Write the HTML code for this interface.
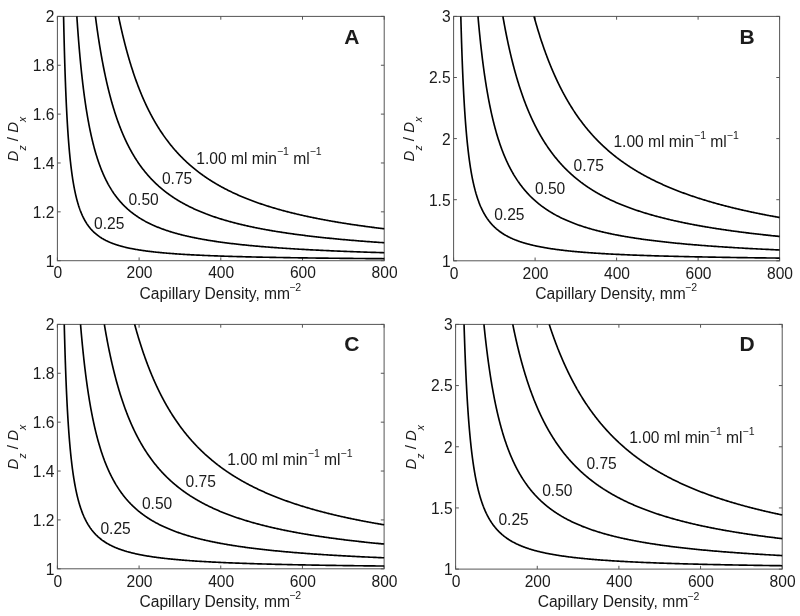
<!DOCTYPE html>
<html><head><meta charset="utf-8"><style>
html,body{margin:0;padding:0;background:#fff;}
svg{display:block;}
text{font-family:"Liberation Sans",sans-serif;font-size:15.6px;fill:#1a1a1a;}
</style></head><body>
<svg width="800" height="616" viewBox="0 0 800 616">
<defs><filter id="gs" x="0" y="0" width="800" height="616" filterUnits="userSpaceOnUse"><feGaussianBlur stdDeviation="0.3"/></filter></defs>
<rect width="800" height="616" fill="#fff"/>
<g filter="url(#gs)">
<rect x="57.4" y="16.4" width="326.80" height="244.30" fill="none" stroke="#555" stroke-width="1"/>
<path d="M57.40,260.7V257.40M57.40,16.4V19.70" stroke="#555"/>
<path d="M139.10,260.7V257.40M139.10,16.4V19.70" stroke="#555"/>
<path d="M220.80,260.7V257.40M220.80,16.4V19.70" stroke="#555"/>
<path d="M302.50,260.7V257.40M302.50,16.4V19.70" stroke="#555"/>
<path d="M384.20,260.7V257.40M384.20,16.4V19.70" stroke="#555"/>
<path d="M57.4,260.70H60.70M384.2,260.70H380.90" stroke="#555"/>
<path d="M57.4,211.84H60.70M384.2,211.84H380.90" stroke="#555"/>
<path d="M57.4,162.98H60.70M384.2,162.98H380.90" stroke="#555"/>
<path d="M57.4,114.12H60.70M384.2,114.12H380.90" stroke="#555"/>
<path d="M57.4,65.26H60.70M384.2,65.26H380.90" stroke="#555"/>
<path d="M57.4,16.40H60.70M384.2,16.40H380.90" stroke="#555"/>
<path d="M63.58,16.40 L63.63,18.74 L63.68,21.05 L63.73,23.35 L63.78,25.62 L63.83,27.87 L63.88,30.09 L63.94,32.30 L63.99,34.48 L64.04,36.65 L64.09,38.79 L64.15,40.92 L64.20,43.02 L64.25,45.10 L64.31,47.16 L64.36,49.21 L64.42,51.23 L64.48,53.24 L64.53,55.22 L64.59,57.19 L64.65,59.13 L64.70,61.06 L64.76,62.97 L64.82,64.86 L64.88,66.74 L64.94,68.59 L65.00,70.43 L65.06,72.25 L65.12,74.06 L65.18,75.84 L65.25,77.61 L65.31,79.36 L65.37,81.10 L65.44,82.82 L65.50,84.52 L65.56,86.20 L65.63,87.87 L65.70,89.53 L65.76,91.16 L65.83,92.79 L65.90,94.39 L65.96,95.98 L66.03,97.56 L66.10,99.12 L66.17,100.67 L66.24,102.20 L66.31,103.71 L66.38,105.22 L66.45,106.70 L66.53,108.18 L66.60,109.64 L66.67,111.08 L66.75,112.51 L66.82,113.93 L66.90,115.34 L66.97,116.73 L67.05,118.11 L67.13,119.47 L67.20,120.82 L67.28,122.16 L67.36,123.49 L67.44,124.80 L67.52,126.10 L67.60,127.39 L67.68,128.66 L67.76,129.93 L67.85,131.18 L67.93,132.42 L68.01,133.64 L68.10,134.86 L68.18,136.06 L68.27,137.26 L68.36,138.44 L68.45,139.61 L68.53,140.77 L68.62,141.91 L68.71,143.05 L68.80,144.18 L68.89,145.29 L68.99,146.40 L69.08,147.49 L69.17,148.57 L69.26,149.65 L69.36,150.71 L69.45,151.76 L69.55,152.80 L69.65,153.84 L69.75,154.86 L69.84,155.87 L69.94,156.87 L70.04,157.87 L70.14,158.85 L70.25,159.83 L70.35,160.79 L70.45,161.75 L70.56,162.70 L70.66,163.63 L70.77,164.56 L70.87,165.48 L70.98,166.39 L71.09,167.30 L71.20,168.19 L71.31,169.08 L71.42,169.95 L71.53,170.82 L71.65,171.68 L71.76,172.53 L71.87,173.38 L71.99,174.21 L72.11,175.04 L72.22,175.86 L72.34,176.67 L72.46,177.48 L72.58,178.27 L72.70,179.06 L72.82,179.84 L72.95,180.62 L73.07,181.38 L73.20,182.14 L73.32,182.89 L73.45,183.64 L73.58,184.38 L73.71,185.11 L73.84,185.83 L73.97,186.55 L74.10,187.26 L74.23,187.96 L74.37,188.65 L74.50,189.34 L74.64,190.03 L74.78,190.70 L74.92,191.37 L75.06,192.04 L75.20,192.69 L75.34,193.34 L75.48,193.99 L75.63,194.63 L75.77,195.26 L75.92,195.89 L76.07,196.51 L76.22,197.12 L76.37,197.73 L76.52,198.33 L76.67,198.93 L76.83,199.52 L76.98,200.11 L77.14,200.69 L77.29,201.26 L77.45,201.83 L77.61,202.39 L77.77,202.95 L77.94,203.50 L78.10,204.05 L78.27,204.59 L78.43,205.13 L78.60,205.66 L78.77,206.19 L78.94,206.71 L79.11,207.23 L79.29,207.74 L79.46,208.25 L79.64,208.75 L79.81,209.25 L79.99,209.74 L80.17,210.23 L80.36,210.71 L80.54,211.19 L80.72,211.66 L80.91,212.13 L81.10,212.60 L81.29,213.06 L81.48,213.51 L81.67,213.96 L81.86,214.41 L82.06,214.86 L82.26,215.29 L82.45,215.73 L82.65,216.16 L82.86,216.59 L83.06,217.01 L83.26,217.43 L83.47,217.84 L83.68,218.25 L83.89,218.66 L84.10,219.06 L84.31,219.46 L84.53,219.85 L84.74,220.24 L84.96,220.63 L85.18,221.01 L85.40,221.39 L85.63,221.77 L85.85,222.14 L86.08,222.51 L86.31,222.88 L86.54,223.24 L86.77,223.60 L87.01,223.95 L87.24,224.31 L87.48,224.65 L87.72,225.00 L87.96,225.34 L88.21,225.68 L88.45,226.02 L88.70,226.35 L88.95,226.68 L89.20,227.00 L89.46,227.32 L89.71,227.64 L89.97,227.96 L90.23,228.27 L90.49,228.59 L90.76,228.89 L91.02,229.20 L91.29,229.50 L91.56,229.80 L91.83,230.09 L92.11,230.39 L92.39,230.68 L92.67,230.96 L92.95,231.25 L93.23,231.53 L93.52,231.81 L93.81,232.09 L94.10,232.36 L94.39,232.63 L94.68,232.90 L94.98,233.17 L95.28,233.43 L95.58,233.69 L95.89,233.95 L96.20,234.21 L96.51,234.46 L96.82,234.71 L97.13,234.96 L97.45,235.21 L97.77,235.45 L98.09,235.69 L98.42,235.93 L98.75,236.17 L99.08,236.40 L99.41,236.64 L99.74,236.87 L100.08,237.10 L100.42,237.32 L100.77,237.55 L101.11,237.77 L101.46,237.99 L101.81,238.21 L102.17,238.42 L102.52,238.63 L102.88,238.85 L103.25,239.05 L103.61,239.26 L103.98,239.47 L104.35,239.67 L104.73,239.87 L105.11,240.07 L105.49,240.27 L105.87,240.47 L106.26,240.66 L106.65,240.85 L107.04,241.04 L107.44,241.23 L107.84,241.42 L108.24,241.60 L108.65,241.78 L109.06,241.96 L109.47,242.14 L109.88,242.32 L110.30,242.50 L110.73,242.67 L111.15,242.85 L111.58,243.02 L112.01,243.19 L112.45,243.35 L112.89,243.52 L113.33,243.68 L113.78,243.85 L114.23,244.01 L114.68,244.17 L115.14,244.33 L115.60,244.48 L116.06,244.64 L116.53,244.79 L117.00,244.95 L117.48,245.10 L117.96,245.25 L118.44,245.39 L118.93,245.54 L119.42,245.69 L119.92,245.83 L120.42,245.97 L120.92,246.11 L121.43,246.25 L121.94,246.39 L122.45,246.53 L122.97,246.67 L123.50,246.80 L124.02,246.93 L124.55,247.06 L125.09,247.20 L125.63,247.32 L126.18,247.45 L126.72,247.58 L127.28,247.71 L127.84,247.83 L128.40,247.95 L128.97,248.08 L129.54,248.20 L130.11,248.32 L130.69,248.44 L131.28,248.55 L131.87,248.67 L132.46,248.78 L133.06,248.90 L133.67,249.01 L134.27,249.12 L134.89,249.24 L135.51,249.35 L136.13,249.45 L136.76,249.56 L137.39,249.67 L138.03,249.77 L138.67,249.88 L139.32,249.98 L139.98,250.09 L140.64,250.19 L141.30,250.29 L141.97,250.39 L142.65,250.49 L143.33,250.58 L144.01,250.68 L144.70,250.78 L145.40,250.87 L146.10,250.97 L146.81,251.06 L147.53,251.15 L148.25,251.24 L148.97,251.34 L149.70,251.43 L150.44,251.51 L151.18,251.60 L151.93,251.69 L152.68,251.78 L153.45,251.86 L154.21,251.95 L154.98,252.03 L155.76,252.11 L156.55,252.20 L157.34,252.28 L158.14,252.36 L158.94,252.44 L159.75,252.52 L160.57,252.60 L161.39,252.67 L162.22,252.75 L163.06,252.83 L163.90,252.90 L164.75,252.98 L165.61,253.05 L166.48,253.13 L167.35,253.20 L168.22,253.27 L169.11,253.34 L170.00,253.41 L170.90,253.48 L171.81,253.55 L172.72,253.62 L173.64,253.69 L174.57,253.75 L175.50,253.82 L176.45,253.89 L177.40,253.95 L178.35,254.02 L179.32,254.08 L180.29,254.15 L181.27,254.21 L182.26,254.27 L183.26,254.33 L184.26,254.39 L185.28,254.45 L186.30,254.51 L187.33,254.57 L188.36,254.63 L189.41,254.69 L190.46,254.75 L191.53,254.81 L192.60,254.86 L193.68,254.92 L194.76,254.97 L195.86,255.03 L196.97,255.08 L198.08,255.14 L199.20,255.19 L200.34,255.24 L201.48,255.30 L202.63,255.35 L203.79,255.40 L204.95,255.45 L206.13,255.50 L207.32,255.55 L208.52,255.60 L209.72,255.65 L210.94,255.70 L212.16,255.75 L213.40,255.79 L214.65,255.84 L215.90,255.89 L217.17,255.93 L218.44,255.98 L219.73,256.02 L221.02,256.07 L222.33,256.11 L223.65,256.16 L224.97,256.20 L226.31,256.24 L227.66,256.29 L229.02,256.33 L230.39,256.37 L231.77,256.41 L233.16,256.45 L234.57,256.50 L235.98,256.54 L237.41,256.58 L238.84,256.62 L240.29,256.66 L241.75,256.69 L243.22,256.73 L244.71,256.77 L246.20,256.81 L247.71,256.85 L249.23,256.88 L250.76,256.92 L252.30,256.96 L253.86,256.99 L255.43,257.03 L257.01,257.06 L258.60,257.10 L260.21,257.13 L261.83,257.17 L263.46,257.20 L265.10,257.23 L266.76,257.27 L268.43,257.30 L270.12,257.33 L271.82,257.37 L273.53,257.40 L275.25,257.43 L276.99,257.46 L278.75,257.49 L280.51,257.52 L282.29,257.55 L284.09,257.58 L285.90,257.61 L287.72,257.64 L289.56,257.67 L291.42,257.70 L293.28,257.73 L295.17,257.76 L297.06,257.79 L298.98,257.82 L300.91,257.84 L302.85,257.87 L304.81,257.90 L306.78,257.93 L308.78,257.95 L310.78,257.98 L312.81,258.01 L314.84,258.03 L316.90,258.06 L318.97,258.08 L321.06,258.11 L323.16,258.13 L325.29,258.16 L327.42,258.18 L329.58,258.21 L331.75,258.23 L333.94,258.25 L336.15,258.28 L338.38,258.30 L340.62,258.32 L342.88,258.35 L345.16,258.37 L347.46,258.39 L349.77,258.41 L352.11,258.44 L354.46,258.46 L356.83,258.48 L359.22,258.50 L361.63,258.52 L364.06,258.54 L366.51,258.56 L368.97,258.59 L371.46,258.61 L373.97,258.63 L376.50,258.65 L379.04,258.67 L381.61,258.69 L384.20,258.70" fill="none" stroke="#000" stroke-width="1.65" stroke-linejoin="round"/>
<path d="M76.85,16.40 L76.96,18.06 L77.07,19.72 L77.19,21.36 L77.30,22.99 L77.41,24.61 L77.52,26.22 L77.64,27.82 L77.75,29.41 L77.87,30.98 L77.98,32.55 L78.10,34.10 L78.22,35.65 L78.34,37.18 L78.45,38.71 L78.57,40.22 L78.69,41.72 L78.82,43.21 L78.94,44.70 L79.06,46.17 L79.18,47.63 L79.30,49.08 L79.43,50.52 L79.55,51.96 L79.68,53.38 L79.81,54.79 L79.93,56.20 L80.06,57.59 L80.19,58.97 L80.32,60.35 L80.45,61.72 L80.58,63.07 L80.71,64.42 L80.84,65.76 L80.98,67.09 L81.11,68.41 L81.24,69.72 L81.38,71.02 L81.51,72.31 L81.65,73.59 L81.79,74.87 L81.93,76.14 L82.07,77.39 L82.21,78.64 L82.35,79.89 L82.49,81.12 L82.63,82.34 L82.77,83.56 L82.92,84.77 L83.06,85.96 L83.21,87.16 L83.35,88.34 L83.50,89.51 L83.65,90.68 L83.80,91.84 L83.95,92.99 L84.10,94.13 L84.25,95.27 L84.40,96.40 L84.56,97.52 L84.71,98.63 L84.86,99.73 L85.02,100.83 L85.18,101.92 L85.33,103.00 L85.49,104.08 L85.65,105.15 L85.81,106.21 L85.97,107.26 L86.13,108.31 L86.30,109.34 L86.46,110.38 L86.63,111.40 L86.79,112.42 L86.96,113.43 L87.13,114.43 L87.29,115.43 L87.46,116.42 L87.63,117.41 L87.81,118.38 L87.98,119.35 L88.15,120.32 L88.33,121.27 L88.50,122.22 L88.68,123.17 L88.86,124.11 L89.03,125.04 L89.21,125.96 L89.39,126.88 L89.57,127.79 L89.76,128.70 L89.94,129.60 L90.13,130.49 L90.31,131.38 L90.50,132.26 L90.69,133.14 L90.87,134.01 L91.06,134.87 L91.25,135.73 L91.45,136.58 L91.64,137.43 L91.83,138.27 L92.03,139.10 L92.23,139.93 L92.42,140.76 L92.62,141.57 L92.82,142.39 L93.02,143.19 L93.22,143.99 L93.43,144.79 L93.63,145.58 L93.84,146.36 L94.04,147.14 L94.25,147.92 L94.46,148.69 L94.67,149.45 L94.88,150.21 L95.09,150.96 L95.31,151.71 L95.52,152.45 L95.74,153.19 L95.96,153.93 L96.17,154.65 L96.39,155.38 L96.62,156.10 L96.84,156.81 L97.06,157.52 L97.29,158.22 L97.51,158.92 L97.74,159.61 L97.97,160.30 L98.20,160.99 L98.43,161.67 L98.66,162.34 L98.90,163.01 L99.13,163.68 L99.37,164.34 L99.61,165.00 L99.85,165.65 L100.09,166.30 L100.33,166.94 L100.57,167.58 L100.82,168.22 L101.06,168.85 L101.31,169.48 L101.56,170.10 L101.81,170.72 L102.06,171.33 L102.32,171.94 L102.57,172.54 L102.83,173.15 L103.08,173.74 L103.34,174.34 L103.60,174.92 L103.86,175.51 L104.13,176.09 L104.39,176.67 L104.66,177.24 L104.93,177.81 L105.20,178.38 L105.47,178.94 L105.74,179.49 L106.01,180.05 L106.29,180.60 L106.57,181.15 L106.85,181.69 L107.13,182.23 L107.41,182.76 L107.69,183.29 L107.98,183.82 L108.26,184.35 L108.55,184.87 L108.84,185.38 L109.13,185.90 L109.43,186.41 L109.72,186.92 L110.02,187.42 L110.32,187.92 L110.62,188.41 L110.92,188.91 L111.22,189.40 L111.53,189.88 L111.84,190.37 L112.14,190.85 L112.45,191.32 L112.77,191.80 L113.08,192.27 L113.40,192.73 L113.71,193.20 L114.03,193.66 L114.35,194.12 L114.68,194.57 L115.00,195.02 L115.33,195.47 L115.66,195.91 L115.99,196.36 L116.32,196.80 L116.65,197.23 L116.99,197.66 L117.33,198.09 L117.67,198.52 L118.01,198.95 L118.35,199.37 L118.70,199.79 L119.05,200.20 L119.40,200.61 L119.75,201.02 L120.10,201.43 L120.46,201.84 L120.81,202.24 L121.17,202.64 L121.53,203.03 L121.90,203.43 L122.26,203.82 L122.63,204.21 L123.00,204.59 L123.37,204.97 L123.75,205.35 L124.12,205.73 L124.50,206.11 L124.88,206.48 L125.27,206.85 L125.65,207.22 L126.04,207.58 L126.43,207.94 L126.82,208.30 L127.21,208.66 L127.61,209.02 L128.00,209.37 L128.41,209.72 L128.81,210.07 L129.21,210.41 L129.62,210.76 L130.03,211.10 L130.44,211.44 L130.86,211.77 L131.27,212.11 L131.69,212.44 L132.11,212.77 L132.54,213.10 L132.96,213.42 L133.39,213.74 L133.82,214.06 L134.25,214.38 L134.69,214.70 L135.13,215.01 L135.57,215.32 L136.01,215.63 L136.46,215.94 L136.91,216.25 L137.36,216.55 L137.81,216.85 L138.27,217.15 L138.72,217.45 L139.19,217.74 L139.65,218.04 L140.12,218.33 L140.58,218.62 L141.06,218.91 L141.53,219.19 L142.01,219.47 L142.49,219.76 L142.97,220.04 L143.46,220.31 L143.94,220.59 L144.43,220.86 L144.93,221.13 L145.42,221.41 L145.92,221.67 L146.42,221.94 L146.93,222.20 L147.44,222.47 L147.95,222.73 L148.46,222.99 L148.98,223.25 L149.50,223.50 L150.02,223.76 L150.54,224.01 L151.07,224.26 L151.60,224.51 L152.14,224.75 L152.67,225.00 L153.21,225.24 L153.76,225.49 L154.30,225.73 L154.85,225.97 L155.41,226.20 L155.96,226.44 L156.52,226.67 L157.08,226.90 L157.65,227.14 L158.22,227.36 L158.79,227.59 L159.36,227.82 L159.94,228.04 L160.52,228.27 L161.11,228.49 L161.70,228.71 L162.29,228.93 L162.88,229.14 L163.48,229.36 L164.08,229.57 L164.69,229.79 L165.29,230.00 L165.91,230.21 L166.52,230.42 L167.14,230.62 L167.76,230.83 L168.39,231.03 L169.02,231.24 L169.65,231.44 L170.29,231.64 L170.93,231.84 L171.57,232.03 L172.22,232.23 L172.87,232.42 L173.52,232.62 L174.18,232.81 L174.84,233.00 L175.51,233.19 L176.18,233.38 L176.85,233.56 L177.53,233.75 L178.21,233.93 L178.90,234.12 L179.59,234.30 L180.28,234.48 L180.98,234.66 L181.68,234.83 L182.38,235.01 L183.09,235.19 L183.80,235.36 L184.52,235.54 L185.24,235.71 L185.96,235.88 L186.69,236.05 L187.43,236.22 L188.16,236.38 L188.91,236.55 L189.65,236.71 L190.40,236.88 L191.15,237.04 L191.91,237.20 L192.68,237.36 L193.44,237.52 L194.21,237.68 L194.99,237.84 L195.77,238.00 L196.55,238.15 L197.34,238.31 L198.14,238.46 L198.94,238.61 L199.74,238.76 L200.54,238.91 L201.36,239.06 L202.17,239.21 L202.99,239.36 L203.82,239.50 L204.65,239.65 L205.48,239.79 L206.32,239.93 L207.17,240.08 L208.02,240.22 L208.87,240.36 L209.73,240.50 L210.59,240.63 L211.46,240.77 L212.34,240.91 L213.21,241.04 L214.10,241.18 L214.99,241.31 L215.88,241.44 L216.78,241.58 L217.68,241.71 L218.59,241.84 L219.51,241.97 L220.42,242.09 L221.35,242.22 L222.28,242.35 L223.21,242.47 L224.15,242.60 L225.10,242.72 L226.05,242.85 L227.01,242.97 L227.97,243.09 L228.93,243.21 L229.91,243.33 L230.89,243.45 L231.87,243.57 L232.86,243.68 L233.85,243.80 L234.85,243.92 L235.86,244.03 L236.87,244.15 L237.89,244.26 L238.91,244.37 L239.94,244.48 L240.98,244.59 L242.02,244.70 L243.06,244.81 L244.12,244.92 L245.18,245.03 L246.24,245.14 L247.31,245.24 L248.39,245.35 L249.47,245.46 L250.56,245.56 L251.66,245.66 L252.76,245.77 L253.86,245.87 L254.98,245.97 L256.10,246.07 L257.23,246.17 L258.36,246.27 L259.50,246.37 L260.64,246.47 L261.80,246.57 L262.96,246.66 L264.12,246.76 L265.29,246.85 L266.47,246.95 L267.66,247.04 L268.85,247.14 L270.05,247.23 L271.25,247.32 L272.47,247.41 L273.69,247.51 L274.91,247.60 L276.15,247.69 L277.39,247.77 L278.63,247.86 L279.89,247.95 L281.15,248.04 L282.42,248.13 L283.69,248.21 L284.98,248.30 L286.27,248.38 L287.57,248.47 L288.87,248.55 L290.18,248.63 L291.50,248.72 L292.83,248.80 L294.16,248.88 L295.51,248.96 L296.86,249.04 L298.22,249.12 L299.58,249.20 L300.95,249.28 L302.33,249.36 L303.72,249.44 L305.12,249.51 L306.52,249.59 L307.94,249.67 L309.36,249.74 L310.79,249.82 L312.22,249.89 L313.67,249.97 L315.12,250.04 L316.58,250.11 L318.05,250.19 L319.53,250.26 L321.02,250.33 L322.51,250.40 L324.01,250.47 L325.53,250.54 L327.05,250.61 L328.58,250.68 L330.11,250.75 L331.66,250.82 L333.21,250.89 L334.78,250.95 L336.35,251.02 L337.93,251.09 L339.52,251.15 L341.12,251.22 L342.73,251.28 L344.35,251.35 L345.98,251.41 L347.61,251.48 L349.26,251.54 L350.91,251.60 L352.58,251.66 L354.25,251.73 L355.93,251.79 L357.63,251.85 L359.33,251.91 L361.04,251.97 L362.76,252.03 L364.49,252.09 L366.24,252.15 L367.99,252.21 L369.75,252.27 L371.52,252.32 L373.30,252.38 L375.09,252.44 L376.89,252.50 L378.70,252.55 L380.53,252.61 L382.36,252.66 L384.20,252.72" fill="none" stroke="#000" stroke-width="1.65" stroke-linejoin="round"/>
<path d="M95.43,16.40 L95.59,17.67 L95.76,18.94 L95.92,20.19 L96.09,21.45 L96.25,22.69 L96.42,23.93 L96.59,25.16 L96.76,26.39 L96.93,27.61 L97.10,28.82 L97.27,30.02 L97.44,31.22 L97.62,32.42 L97.79,33.61 L97.97,34.79 L98.14,35.96 L98.32,37.13 L98.49,38.30 L98.67,39.45 L98.85,40.61 L99.03,41.75 L99.21,42.89 L99.39,44.02 L99.57,45.15 L99.75,46.27 L99.94,47.39 L100.12,48.50 L100.30,49.60 L100.49,50.70 L100.68,51.79 L100.86,52.88 L101.05,53.96 L101.24,55.04 L101.43,56.11 L101.62,57.17 L101.81,58.23 L102.00,59.29 L102.19,60.33 L102.39,61.38 L102.58,62.41 L102.78,63.45 L102.97,64.47 L103.17,65.49 L103.37,66.51 L103.57,67.52 L103.77,68.53 L103.97,69.53 L104.17,70.52 L104.37,71.51 L104.57,72.50 L104.78,73.48 L104.98,74.45 L105.19,75.42 L105.39,76.38 L105.60,77.34 L105.81,78.30 L106.02,79.25 L106.23,80.19 L106.44,81.13 L106.65,82.07 L106.86,83.00 L107.08,83.92 L107.29,84.84 L107.51,85.76 L107.72,86.67 L107.94,87.57 L108.16,88.47 L108.38,89.37 L108.60,90.26 L108.82,91.15 L109.04,92.03 L109.27,92.91 L109.49,93.78 L109.71,94.65 L109.94,95.52 L110.17,96.38 L110.40,97.23 L110.62,98.08 L110.85,98.93 L111.09,99.77 L111.32,100.61 L111.55,101.44 L111.78,102.27 L112.02,103.10 L112.25,103.92 L112.49,104.73 L112.73,105.54 L112.97,106.35 L113.21,107.16 L113.45,107.95 L113.69,108.75 L113.94,109.54 L114.18,110.33 L114.42,111.11 L114.67,111.89 L114.92,112.66 L115.17,113.43 L115.42,114.20 L115.67,114.96 L115.92,115.72 L116.17,116.48 L116.43,117.23 L116.68,117.98 L116.94,118.72 L117.19,119.46 L117.45,120.19 L117.71,120.92 L117.97,121.65 L118.23,122.38 L118.50,123.10 L118.76,123.81 L119.03,124.53 L119.29,125.23 L119.56,125.94 L119.83,126.64 L120.10,127.34 L120.37,128.03 L120.64,128.72 L120.91,129.41 L121.19,130.10 L121.46,130.78 L121.74,131.45 L122.02,132.13 L122.30,132.79 L122.58,133.46 L122.86,134.12 L123.14,134.78 L123.43,135.44 L123.71,136.09 L124.00,136.74 L124.29,137.39 L124.57,138.03 L124.86,138.67 L125.16,139.30 L125.45,139.93 L125.74,140.56 L126.04,141.19 L126.33,141.81 L126.63,142.43 L126.93,143.05 L127.23,143.66 L127.53,144.27 L127.84,144.87 L128.14,145.48 L128.45,146.08 L128.75,146.67 L129.06,147.27 L129.37,147.86 L129.68,148.45 L129.99,149.03 L130.31,149.61 L130.62,150.19 L130.94,150.77 L131.26,151.34 L131.58,151.91 L131.90,152.48 L132.22,153.04 L132.54,153.60 L132.87,154.16 L133.19,154.71 L133.52,155.27 L133.85,155.82 L134.18,156.36 L134.51,156.90 L134.84,157.45 L135.18,157.98 L135.51,158.52 L135.85,159.05 L136.19,159.58 L136.53,160.11 L136.87,160.63 L137.22,161.15 L137.56,161.67 L137.91,162.19 L138.26,162.70 L138.60,163.21 L138.96,163.72 L139.31,164.22 L139.66,164.73 L140.02,165.23 L140.37,165.72 L140.73,166.22 L141.09,166.71 L141.45,167.20 L141.82,167.69 L142.18,168.17 L142.55,168.65 L142.92,169.13 L143.29,169.61 L143.66,170.09 L144.03,170.56 L144.40,171.03 L144.78,171.49 L145.16,171.96 L145.54,172.42 L145.92,172.88 L146.30,173.34 L146.68,173.79 L147.07,174.25 L147.46,174.70 L147.84,175.15 L148.24,175.59 L148.63,176.04 L149.02,176.48 L149.42,176.92 L149.82,177.35 L150.21,177.79 L150.62,178.22 L151.02,178.65 L151.42,179.08 L151.83,179.50 L152.24,179.93 L152.65,180.35 L153.06,180.76 L153.47,181.18 L153.89,181.60 L154.30,182.01 L154.72,182.42 L155.14,182.83 L155.56,183.23 L155.99,183.64 L156.41,184.04 L156.84,184.44 L157.27,184.83 L157.70,185.23 L158.14,185.62 L158.57,186.02 L159.01,186.40 L159.45,186.79 L159.89,187.18 L160.33,187.56 L160.78,187.94 L161.22,188.32 L161.67,188.70 L162.12,189.07 L162.57,189.45 L163.03,189.82 L163.48,190.19 L163.94,190.56 L164.40,190.92 L164.87,191.29 L165.33,191.65 L165.80,192.01 L166.26,192.37 L166.73,192.72 L167.21,193.08 L167.68,193.43 L168.16,193.78 L168.64,194.13 L169.12,194.48 L169.60,194.82 L170.08,195.16 L170.57,195.51 L171.06,195.85 L171.55,196.18 L172.04,196.52 L172.54,196.86 L173.04,197.19 L173.54,197.52 L174.04,197.85 L174.54,198.18 L175.05,198.50 L175.56,198.83 L176.07,199.15 L176.58,199.47 L177.09,199.79 L177.61,200.11 L178.13,200.42 L178.65,200.74 L179.18,201.05 L179.70,201.36 L180.23,201.67 L180.76,201.98 L181.29,202.29 L181.83,202.59 L182.37,202.89 L182.91,203.20 L183.45,203.50 L183.99,203.79 L184.54,204.09 L185.09,204.39 L185.64,204.68 L186.19,204.97 L186.75,205.26 L187.31,205.55 L187.87,205.84 L188.44,206.13 L189.00,206.41 L189.57,206.69 L190.14,206.98 L190.71,207.26 L191.29,207.53 L191.87,207.81 L192.45,208.09 L193.03,208.36 L193.62,208.64 L194.21,208.91 L194.80,209.18 L195.39,209.45 L195.99,209.71 L196.59,209.98 L197.19,210.24 L197.79,210.51 L198.40,210.77 L199.01,211.03 L199.62,211.29 L200.23,211.55 L200.85,211.80 L201.47,212.06 L202.09,212.31 L202.72,212.57 L203.35,212.82 L203.98,213.07 L204.61,213.32 L205.25,213.56 L205.88,213.81 L206.53,214.05 L207.17,214.30 L207.82,214.54 L208.47,214.78 L209.12,215.02 L209.77,215.26 L210.43,215.50 L211.09,215.73 L211.76,215.97 L212.42,216.20 L213.09,216.43 L213.77,216.66 L214.44,216.89 L215.12,217.12 L215.80,217.35 L216.49,217.58 L217.17,217.80 L217.86,218.03 L218.56,218.25 L219.25,218.47 L219.95,218.69 L220.66,218.91 L221.36,219.13 L222.07,219.34 L222.78,219.56 L223.49,219.78 L224.21,219.99 L224.93,220.20 L225.66,220.41 L226.38,220.62 L227.11,220.83 L227.85,221.04 L228.58,221.25 L229.32,221.45 L230.07,221.66 L230.81,221.86 L231.56,222.07 L232.31,222.27 L233.07,222.47 L233.83,222.67 L234.59,222.87 L235.35,223.07 L236.12,223.26 L236.90,223.46 L237.67,223.65 L238.45,223.85 L239.23,224.04 L240.02,224.23 L240.81,224.42 L241.60,224.61 L242.39,224.80 L243.19,224.99 L244.00,225.17 L244.80,225.36 L245.61,225.54 L246.43,225.73 L247.24,225.91 L248.06,226.09 L248.89,226.27 L249.71,226.45 L250.54,226.63 L251.38,226.81 L252.22,226.99 L253.06,227.16 L253.90,227.34 L254.75,227.51 L255.60,227.69 L256.46,227.86 L257.32,228.03 L258.18,228.20 L259.05,228.37 L259.92,228.54 L260.80,228.71 L261.68,228.88 L262.56,229.04 L263.45,229.21 L264.34,229.37 L265.23,229.54 L266.13,229.70 L267.03,229.86 L267.93,230.02 L268.84,230.18 L269.76,230.34 L270.67,230.50 L271.60,230.66 L272.52,230.82 L273.45,230.97 L274.38,231.13 L275.32,231.28 L276.26,231.44 L277.21,231.59 L278.16,231.74 L279.11,231.89 L280.07,232.04 L281.03,232.19 L282.00,232.34 L282.97,232.49 L283.94,232.64 L284.92,232.79 L285.90,232.93 L286.89,233.08 L287.88,233.22 L288.88,233.36 L289.88,233.51 L290.88,233.65 L291.89,233.79 L292.90,233.93 L293.92,234.07 L294.94,234.21 L295.97,234.35 L297.00,234.49 L298.04,234.63 L299.08,234.76 L300.12,234.90 L301.17,235.03 L302.22,235.17 L303.28,235.30 L304.34,235.43 L305.41,235.57 L306.48,235.70 L307.55,235.83 L308.64,235.96 L309.72,236.09 L310.81,236.22 L311.91,236.35 L313.01,236.47 L314.11,236.60 L315.22,236.73 L316.33,236.85 L317.45,236.98 L318.57,237.10 L319.70,237.22 L320.84,237.35 L321.97,237.47 L323.12,237.59 L324.26,237.71 L325.42,237.83 L326.58,237.95 L327.74,238.07 L328.91,238.19 L330.08,238.31 L331.26,238.43 L332.44,238.54 L333.63,238.66 L334.82,238.77 L336.02,238.89 L337.22,239.00 L338.43,239.12 L339.65,239.23 L340.87,239.34 L342.09,239.45 L343.32,239.57 L344.56,239.68 L345.80,239.79 L347.04,239.90 L348.29,240.01 L349.55,240.11 L350.81,240.22 L352.08,240.33 L353.35,240.44 L354.63,240.54 L355.92,240.65 L357.21,240.75 L358.50,240.86 L359.80,240.96 L361.11,241.06 L362.42,241.17 L363.74,241.27 L365.06,241.37 L366.39,241.47 L367.72,241.57 L369.07,241.67 L370.41,241.77 L371.76,241.87 L373.12,241.97 L374.49,242.07 L375.86,242.17 L377.23,242.27 L378.61,242.36 L380.00,242.46 L381.39,242.55 L382.79,242.65 L384.20,242.74" fill="none" stroke="#000" stroke-width="1.65" stroke-linejoin="round"/>
<path d="M118.56,16.40 L118.77,17.39 L118.98,18.38 L119.18,19.36 L119.39,20.34 L119.60,21.32 L119.81,22.29 L120.02,23.26 L120.23,24.22 L120.44,25.18 L120.65,26.14 L120.87,27.09 L121.08,28.04 L121.29,28.98 L121.51,29.92 L121.72,30.86 L121.94,31.79 L122.16,32.72 L122.38,33.65 L122.59,34.57 L122.81,35.48 L123.03,36.40 L123.25,37.31 L123.48,38.22 L123.70,39.12 L123.92,40.02 L124.15,40.91 L124.37,41.81 L124.60,42.70 L124.82,43.58 L125.05,44.46 L125.28,45.34 L125.50,46.21 L125.73,47.08 L125.96,47.95 L126.19,48.82 L126.42,49.68 L126.66,50.53 L126.89,51.39 L127.12,52.23 L127.36,53.08 L127.59,53.92 L127.83,54.76 L128.07,55.60 L128.30,56.43 L128.54,57.26 L128.78,58.09 L129.02,58.91 L129.26,59.73 L129.51,60.55 L129.75,61.36 L129.99,62.17 L130.24,62.97 L130.48,63.78 L130.73,64.58 L130.97,65.37 L131.22,66.16 L131.47,66.95 L131.72,67.74 L131.97,68.52 L132.22,69.30 L132.47,70.08 L132.72,70.86 L132.98,71.63 L133.23,72.39 L133.49,73.16 L133.74,73.92 L134.00,74.68 L134.26,75.43 L134.51,76.19 L134.77,76.94 L135.03,77.68 L135.30,78.42 L135.56,79.17 L135.82,79.90 L136.08,80.64 L136.35,81.37 L136.61,82.10 L136.88,82.82 L137.15,83.54 L137.42,84.26 L137.69,84.98 L137.96,85.69 L138.23,86.40 L138.50,87.11 L138.77,87.82 L139.04,88.52 L139.32,89.22 L139.60,89.91 L139.87,90.61 L140.15,91.30 L140.43,91.99 L140.71,92.67 L140.99,93.35 L141.27,94.03 L141.55,94.71 L141.83,95.38 L142.12,96.06 L142.40,96.72 L142.69,97.39 L142.98,98.05 L143.26,98.71 L143.55,99.37 L143.84,100.03 L144.13,100.68 L144.42,101.33 L144.72,101.98 L145.01,102.62 L145.31,103.26 L145.60,103.90 L145.90,104.54 L146.20,105.17 L146.49,105.81 L146.79,106.44 L147.09,107.06 L147.40,107.69 L147.70,108.31 L148.00,108.93 L148.31,109.54 L148.61,110.16 L148.92,110.77 L149.23,111.38 L149.54,111.98 L149.85,112.59 L150.16,113.19 L150.47,113.79 L150.78,114.39 L151.10,114.98 L151.41,115.57 L151.73,116.16 L152.05,116.75 L152.36,117.33 L152.68,117.92 L153.00,118.50 L153.33,119.07 L153.65,119.65 L153.97,120.22 L154.30,120.79 L154.62,121.36 L154.95,121.93 L155.28,122.49 L155.61,123.05 L155.94,123.61 L156.27,124.17 L156.60,124.72 L156.94,125.28 L157.27,125.83 L157.61,126.38 L157.94,126.92 L158.28,127.46 L158.62,128.01 L158.96,128.55 L159.30,129.08 L159.65,129.62 L159.99,130.15 L160.34,130.68 L160.68,131.21 L161.03,131.73 L161.38,132.26 L161.73,132.78 L162.08,133.30 L162.43,133.82 L162.78,134.33 L163.14,134.85 L163.49,135.36 L163.85,135.87 L164.21,136.38 L164.57,136.88 L164.93,137.38 L165.29,137.88 L165.65,138.38 L166.02,138.88 L166.38,139.38 L166.75,139.87 L167.12,140.36 L167.49,140.85 L167.86,141.34 L168.23,141.82 L168.60,142.30 L168.98,142.79 L169.35,143.27 L169.73,143.74 L170.11,144.22 L170.48,144.69 L170.86,145.16 L171.25,145.63 L171.63,146.10 L172.01,146.57 L172.40,147.03 L172.79,147.49 L173.17,147.95 L173.56,148.41 L173.95,148.87 L174.35,149.32 L174.74,149.77 L175.13,150.23 L175.53,150.67 L175.93,151.12 L176.33,151.57 L176.73,152.01 L177.13,152.45 L177.53,152.89 L177.93,153.33 L178.34,153.77 L178.75,154.20 L179.16,154.64 L179.57,155.07 L179.98,155.50 L180.39,155.92 L180.80,156.35 L181.22,156.77 L181.63,157.20 L182.05,157.62 L182.47,158.04 L182.89,158.45 L183.31,158.87 L183.74,159.28 L184.16,159.70 L184.59,160.11 L185.02,160.52 L185.45,160.92 L185.88,161.33 L186.31,161.73 L186.74,162.14 L187.18,162.54 L187.61,162.94 L188.05,163.33 L188.49,163.73 L188.93,164.12 L189.38,164.52 L189.82,164.91 L190.26,165.30 L190.71,165.69 L191.16,166.07 L191.61,166.46 L192.06,166.84 L192.51,167.22 L192.97,167.60 L193.42,167.98 L193.88,168.36 L194.34,168.73 L194.80,169.11 L195.26,169.48 L195.73,169.85 L196.19,170.22 L196.66,170.59 L197.13,170.96 L197.60,171.32 L198.07,171.68 L198.54,172.05 L199.02,172.41 L199.49,172.77 L199.97,173.12 L200.45,173.48 L200.93,173.83 L201.42,174.19 L201.90,174.54 L202.39,174.89 L202.87,175.24 L203.36,175.59 L203.86,175.93 L204.35,176.28 L204.84,176.62 L205.34,176.96 L205.84,177.31 L206.34,177.64 L206.84,177.98 L207.34,178.32 L207.84,178.65 L208.35,178.99 L208.86,179.32 L209.37,179.65 L209.88,179.98 L210.39,180.31 L210.91,180.64 L211.42,180.96 L211.94,181.29 L212.46,181.61 L212.98,181.93 L213.50,182.25 L214.03,182.57 L214.56,182.89 L215.09,183.21 L215.62,183.52 L216.15,183.84 L216.68,184.15 L217.22,184.46 L217.76,184.77 L218.29,185.08 L218.84,185.39 L219.38,185.69 L219.92,186.00 L220.47,186.30 L221.02,186.61 L221.57,186.91 L222.12,187.21 L222.68,187.51 L223.23,187.81 L223.79,188.10 L224.35,188.40 L224.91,188.69 L225.47,188.99 L226.04,189.28 L226.61,189.57 L227.18,189.86 L227.75,190.15 L228.32,190.43 L228.90,190.72 L229.47,191.00 L230.05,191.29 L230.63,191.57 L231.22,191.85 L231.80,192.13 L232.39,192.41 L232.98,192.69 L233.57,192.97 L234.16,193.24 L234.75,193.52 L235.35,193.79 L235.95,194.06 L236.55,194.34 L237.15,194.61 L237.76,194.87 L238.36,195.14 L238.97,195.41 L239.58,195.68 L240.20,195.94 L240.81,196.20 L241.43,196.47 L242.05,196.73 L242.67,196.99 L243.29,197.25 L243.92,197.51 L244.54,197.76 L245.17,198.02 L245.80,198.28 L246.44,198.53 L247.07,198.78 L247.71,199.04 L248.35,199.29 L248.99,199.54 L249.64,199.79 L250.29,200.03 L250.93,200.28 L251.59,200.53 L252.24,200.77 L252.89,201.02 L253.55,201.26 L254.21,201.50 L254.87,201.74 L255.54,201.98 L256.20,202.22 L256.87,202.46 L257.54,202.70 L258.22,202.94 L258.89,203.17 L259.57,203.41 L260.25,203.64 L260.93,203.87 L261.62,204.10 L262.31,204.33 L262.99,204.56 L263.69,204.79 L264.38,205.02 L265.08,205.25 L265.77,205.47 L266.48,205.70 L267.18,205.92 L267.88,206.15 L268.59,206.37 L269.30,206.59 L270.02,206.81 L270.73,207.03 L271.45,207.25 L272.17,207.47 L272.89,207.68 L273.62,207.90 L274.34,208.11 L275.07,208.33 L275.81,208.54 L276.54,208.76 L277.28,208.97 L278.02,209.18 L278.76,209.39 L279.50,209.60 L280.25,209.81 L281.00,210.01 L281.75,210.22 L282.51,210.43 L283.27,210.63 L284.02,210.83 L284.79,211.04 L285.55,211.24 L286.32,211.44 L287.09,211.64 L287.86,211.84 L288.64,212.04 L289.42,212.24 L290.20,212.44 L290.98,212.64 L291.76,212.83 L292.55,213.03 L293.34,213.22 L294.14,213.42 L294.93,213.61 L295.73,213.80 L296.54,213.99 L297.34,214.18 L298.15,214.37 L298.96,214.56 L299.77,214.75 L300.58,214.94 L301.40,215.12 L302.22,215.31 L303.05,215.49 L303.87,215.68 L304.70,215.86 L305.53,216.05 L306.37,216.23 L307.21,216.41 L308.05,216.59 L308.89,216.77 L309.74,216.95 L310.58,217.13 L311.44,217.31 L312.29,217.48 L313.15,217.66 L314.01,217.83 L314.87,218.01 L315.74,218.18 L316.61,218.36 L317.48,218.53 L318.35,218.70 L319.23,218.87 L320.11,219.04 L321.00,219.21 L321.88,219.38 L322.77,219.55 L323.67,219.72 L324.56,219.89 L325.46,220.05 L326.36,220.22 L327.27,220.39 L328.17,220.55 L329.08,220.71 L330.00,220.88 L330.92,221.04 L331.84,221.20 L332.76,221.36 L333.69,221.52 L334.61,221.68 L335.55,221.84 L336.48,222.00 L337.42,222.16 L338.36,222.32 L339.31,222.47 L340.26,222.63 L341.21,222.79 L342.16,222.94 L343.12,223.10 L344.08,223.25 L345.05,223.40 L346.01,223.55 L346.99,223.71 L347.96,223.86 L348.94,224.01 L349.92,224.16 L350.90,224.31 L351.89,224.46 L352.88,224.60 L353.87,224.75 L354.87,224.90 L355.87,225.04 L356.88,225.19 L357.88,225.34 L358.89,225.48 L359.91,225.62 L360.93,225.77 L361.95,225.91 L362.97,226.05 L364.00,226.19 L365.03,226.34 L366.07,226.48 L367.10,226.62 L368.15,226.75 L369.19,226.89 L370.24,227.03 L371.29,227.17 L372.35,227.31 L373.41,227.44 L374.47,227.58 L375.54,227.71 L376.61,227.85 L377.68,227.98 L378.76,228.12 L379.84,228.25 L380.92,228.38 L382.01,228.52 L383.10,228.65 L384.20,228.78" fill="none" stroke="#000" stroke-width="1.65" stroke-linejoin="round"/>
<rect x="453.6" y="16.4" width="326.00" height="244.40" fill="none" stroke="#555" stroke-width="1"/>
<path d="M453.60,260.8V257.50M453.60,16.4V19.70" stroke="#555"/>
<path d="M535.10,260.8V257.50M535.10,16.4V19.70" stroke="#555"/>
<path d="M616.60,260.8V257.50M616.60,16.4V19.70" stroke="#555"/>
<path d="M698.10,260.8V257.50M698.10,16.4V19.70" stroke="#555"/>
<path d="M779.60,260.8V257.50M779.60,16.4V19.70" stroke="#555"/>
<path d="M453.6,260.80H456.90M779.6,260.80H776.30" stroke="#555"/>
<path d="M453.6,199.70H456.90M779.6,199.70H776.30" stroke="#555"/>
<path d="M453.6,138.60H456.90M779.6,138.60H776.30" stroke="#555"/>
<path d="M453.6,77.50H456.90M779.6,77.50H776.30" stroke="#555"/>
<path d="M453.6,16.40H456.90M779.6,16.40H776.30" stroke="#555"/>
<path d="M460.82,16.40 L460.88,18.51 L460.93,20.60 L460.99,22.67 L461.05,24.73 L461.10,26.76 L461.16,28.78 L461.22,30.78 L461.28,32.77 L461.34,34.74 L461.39,36.69 L461.45,38.62 L461.51,40.54 L461.57,42.44 L461.64,44.32 L461.70,46.19 L461.76,48.05 L461.82,49.88 L461.89,51.70 L461.95,53.51 L462.01,55.30 L462.08,57.07 L462.14,58.83 L462.21,60.57 L462.27,62.30 L462.34,64.02 L462.41,65.71 L462.47,67.40 L462.54,69.07 L462.61,70.72 L462.68,72.37 L462.75,73.99 L462.82,75.61 L462.89,77.21 L462.96,78.79 L463.03,80.36 L463.11,81.92 L463.18,83.47 L463.25,85.00 L463.33,86.52 L463.40,88.02 L463.48,89.52 L463.55,91.00 L463.63,92.46 L463.70,93.92 L463.78,95.36 L463.86,96.79 L463.94,98.21 L464.02,99.61 L464.10,101.00 L464.18,102.39 L464.26,103.75 L464.34,105.11 L464.42,106.46 L464.51,107.79 L464.59,109.11 L464.67,110.43 L464.76,111.73 L464.84,113.01 L464.93,114.29 L465.02,115.56 L465.10,116.81 L465.19,118.06 L465.28,119.29 L465.37,120.52 L465.46,121.73 L465.55,122.93 L465.64,124.13 L465.74,125.31 L465.83,126.48 L465.92,127.64 L466.02,128.79 L466.11,129.94 L466.21,131.07 L466.31,132.19 L466.40,133.30 L466.50,134.41 L466.60,135.50 L466.70,136.59 L466.80,137.66 L466.90,138.73 L467.00,139.78 L467.11,140.83 L467.21,141.87 L467.31,142.90 L467.42,143.92 L467.52,144.93 L467.63,145.93 L467.74,146.93 L467.85,147.91 L467.96,148.89 L468.07,149.86 L468.18,150.82 L468.29,151.78 L468.40,152.72 L468.52,153.66 L468.63,154.58 L468.74,155.50 L468.86,156.42 L468.98,157.32 L469.10,158.22 L469.21,159.11 L469.33,159.99 L469.45,160.86 L469.58,161.73 L469.70,162.59 L469.82,163.44 L469.95,164.28 L470.07,165.12 L470.20,165.95 L470.32,166.77 L470.45,167.59 L470.58,168.39 L470.71,169.20 L470.84,169.99 L470.98,170.78 L471.11,171.56 L471.24,172.33 L471.38,173.10 L471.51,173.86 L471.65,174.62 L471.79,175.36 L471.93,176.10 L472.07,176.84 L472.21,177.57 L472.35,178.29 L472.50,179.01 L472.64,179.72 L472.79,180.42 L472.94,181.12 L473.08,181.81 L473.23,182.50 L473.38,183.18 L473.54,183.85 L473.69,184.52 L473.84,185.18 L474.00,185.84 L474.15,186.49 L474.31,187.14 L474.47,187.78 L474.63,188.41 L474.79,189.04 L474.95,189.66 L475.12,190.28 L475.28,190.90 L475.45,191.50 L475.62,192.11 L475.78,192.70 L475.95,193.30 L476.13,193.88 L476.30,194.46 L476.47,195.04 L476.65,195.61 L476.82,196.18 L477.00,196.74 L477.18,197.30 L477.36,197.85 L477.54,198.40 L477.73,198.94 L477.91,199.48 L478.10,200.02 L478.29,200.55 L478.48,201.07 L478.67,201.59 L478.86,202.11 L479.05,202.62 L479.25,203.12 L479.44,203.63 L479.64,204.13 L479.84,204.62 L480.04,205.11 L480.25,205.59 L480.45,206.08 L480.66,206.55 L480.86,207.03 L481.07,207.49 L481.28,207.96 L481.49,208.42 L481.71,208.88 L481.92,209.33 L482.14,209.78 L482.36,210.22 L482.58,210.67 L482.80,211.10 L483.03,211.54 L483.25,211.97 L483.48,212.39 L483.71,212.82 L483.94,213.24 L484.17,213.65 L484.41,214.06 L484.64,214.47 L484.88,214.88 L485.12,215.28 L485.36,215.68 L485.60,216.07 L485.85,216.46 L486.10,216.85 L486.35,217.23 L486.60,217.61 L486.85,217.99 L487.10,218.37 L487.36,218.74 L487.62,219.11 L487.88,219.47 L488.14,219.83 L488.41,220.19 L488.67,220.55 L488.94,220.90 L489.21,221.25 L489.49,221.60 L489.76,221.94 L490.04,222.28 L490.32,222.62 L490.60,222.95 L490.88,223.28 L491.17,223.61 L491.46,223.94 L491.75,224.26 L492.04,224.58 L492.33,224.90 L492.63,225.21 L492.93,225.53 L493.23,225.84 L493.54,226.14 L493.84,226.45 L494.15,226.75 L494.46,227.05 L494.77,227.35 L495.09,227.64 L495.41,227.93 L495.73,228.22 L496.05,228.51 L496.38,228.79 L496.70,229.07 L497.03,229.35 L497.37,229.63 L497.70,229.90 L498.04,230.17 L498.38,230.44 L498.73,230.71 L499.07,230.98 L499.42,231.24 L499.77,231.50 L500.12,231.76 L500.48,232.01 L500.84,232.27 L501.20,232.52 L501.57,232.77 L501.93,233.02 L502.31,233.26 L502.68,233.50 L503.05,233.74 L503.43,233.98 L503.82,234.22 L504.20,234.46 L504.59,234.69 L504.98,234.92 L505.37,235.15 L505.77,235.38 L506.17,235.60 L506.57,235.82 L506.98,236.04 L507.39,236.26 L507.80,236.48 L508.22,236.70 L508.63,236.91 L509.06,237.12 L509.48,237.33 L509.91,237.54 L510.34,237.75 L510.78,237.95 L511.21,238.15 L511.66,238.36 L512.10,238.56 L512.55,238.75 L513.00,238.95 L513.46,239.14 L513.91,239.34 L514.38,239.53 L514.84,239.72 L515.31,239.91 L515.78,240.09 L516.26,240.28 L516.74,240.46 L517.23,240.64 L517.71,240.82 L518.20,241.00 L518.70,241.18 L519.20,241.35 L519.70,241.53 L520.21,241.70 L520.72,241.87 L521.23,242.04 L521.75,242.21 L522.27,242.38 L522.80,242.54 L523.33,242.71 L523.86,242.87 L524.40,243.03 L524.95,243.19 L525.49,243.35 L526.04,243.51 L526.60,243.66 L527.16,243.82 L527.72,243.97 L528.29,244.12 L528.86,244.27 L529.44,244.42 L530.02,244.57 L530.61,244.72 L531.20,244.86 L531.79,245.01 L532.39,245.15 L532.99,245.29 L533.60,245.43 L534.22,245.57 L534.83,245.71 L535.46,245.85 L536.08,245.99 L536.72,246.12 L537.35,246.26 L537.99,246.39 L538.64,246.52 L539.29,246.65 L539.95,246.78 L540.61,246.91 L541.28,247.04 L541.95,247.16 L542.63,247.29 L543.31,247.41 L544.00,247.53 L544.69,247.66 L545.39,247.78 L546.09,247.90 L546.80,248.01 L547.52,248.13 L548.24,248.25 L548.96,248.36 L549.69,248.48 L550.43,248.59 L551.17,248.71 L551.92,248.82 L552.67,248.93 L553.43,249.04 L554.20,249.15 L554.97,249.26 L555.74,249.36 L556.53,249.47 L557.32,249.57 L558.11,249.68 L558.91,249.78 L559.72,249.88 L560.53,249.98 L561.35,250.08 L562.18,250.18 L563.01,250.28 L563.85,250.38 L564.69,250.48 L565.54,250.57 L566.40,250.67 L567.27,250.76 L568.14,250.86 L569.02,250.95 L569.90,251.04 L570.79,251.13 L571.69,251.22 L572.59,251.31 L573.51,251.40 L574.43,251.49 L575.35,251.57 L576.29,251.66 L577.23,251.74 L578.17,251.83 L579.13,251.91 L580.09,251.99 L581.06,252.08 L582.04,252.16 L583.02,252.24 L584.01,252.32 L585.01,252.40 L586.02,252.47 L587.03,252.55 L588.06,252.63 L589.09,252.70 L590.13,252.78 L591.17,252.85 L592.23,252.93 L593.29,253.00 L594.36,253.07 L595.44,253.14 L596.53,253.22 L597.62,253.29 L598.72,253.36 L599.84,253.42 L600.96,253.49 L602.09,253.56 L603.22,253.63 L604.37,253.69 L605.53,253.76 L606.69,253.83 L607.86,253.89 L609.05,253.95 L610.24,254.02 L611.44,254.08 L612.65,254.14 L613.87,254.20 L615.10,254.27 L616.33,254.33 L617.58,254.39 L618.84,254.44 L620.10,254.50 L621.38,254.56 L622.67,254.62 L623.96,254.68 L625.27,254.73 L626.58,254.79 L627.91,254.85 L629.24,254.90 L630.59,254.96 L631.95,255.01 L633.31,255.06 L634.69,255.12 L636.08,255.17 L637.48,255.22 L638.89,255.27 L640.31,255.32 L641.74,255.38 L643.18,255.43 L644.63,255.48 L646.10,255.52 L647.57,255.57 L649.06,255.62 L650.56,255.67 L652.07,255.72 L653.59,255.77 L655.12,255.81 L656.67,255.86 L658.22,255.91 L659.79,255.95 L661.37,256.00 L662.96,256.04 L664.57,256.09 L666.18,256.13 L667.81,256.17 L669.46,256.22 L671.11,256.26 L672.78,256.30 L674.46,256.35 L676.15,256.39 L677.85,256.43 L679.57,256.47 L681.31,256.51 L683.05,256.55 L684.81,256.59 L686.58,256.63 L688.37,256.67 L690.17,256.71 L691.98,256.75 L693.81,256.79 L695.65,256.83 L697.50,256.87 L699.37,256.90 L701.26,256.94 L703.15,256.98 L705.07,257.01 L706.99,257.05 L708.94,257.09 L710.89,257.12 L712.86,257.16 L714.85,257.19 L716.85,257.23 L718.87,257.26 L720.90,257.30 L722.95,257.33 L725.02,257.36 L727.10,257.40 L729.19,257.43 L731.31,257.46 L733.43,257.50 L735.58,257.53 L737.74,257.56 L739.92,257.59 L742.11,257.62 L744.32,257.66 L746.55,257.69 L748.80,257.72 L751.06,257.75 L753.34,257.78 L755.64,257.81 L757.95,257.84 L760.28,257.87 L762.63,257.90 L765.00,257.92 L767.39,257.95 L769.79,257.98 L772.22,258.01 L774.66,258.04 L777.12,258.07 L779.60,258.09" fill="none" stroke="#000" stroke-width="1.65" stroke-linejoin="round"/>
<path d="M477.99,16.40 L478.12,17.85 L478.24,19.29 L478.37,20.73 L478.50,22.15 L478.63,23.57 L478.76,24.97 L478.89,26.37 L479.02,27.77 L479.16,29.15 L479.29,30.53 L479.42,31.89 L479.56,33.25 L479.69,34.60 L479.83,35.95 L479.97,37.28 L480.10,38.61 L480.24,39.93 L480.38,41.24 L480.52,42.55 L480.66,43.84 L480.80,45.13 L480.94,46.41 L481.08,47.69 L481.23,48.95 L481.37,50.21 L481.52,51.47 L481.66,52.71 L481.81,53.95 L481.95,55.18 L482.10,56.40 L482.25,57.62 L482.40,58.82 L482.55,60.03 L482.70,61.22 L482.85,62.41 L483.00,63.59 L483.16,64.76 L483.31,65.93 L483.47,67.09 L483.62,68.24 L483.78,69.39 L483.94,70.52 L484.09,71.66 L484.25,72.78 L484.41,73.90 L484.57,75.02 L484.73,76.12 L484.90,77.22 L485.06,78.31 L485.22,79.40 L485.39,80.48 L485.55,81.56 L485.72,82.62 L485.89,83.69 L486.06,84.74 L486.23,85.79 L486.39,86.83 L486.57,87.87 L486.74,88.90 L486.91,89.93 L487.08,90.94 L487.26,91.96 L487.43,92.96 L487.61,93.97 L487.79,94.96 L487.97,95.95 L488.14,96.93 L488.32,97.91 L488.50,98.88 L488.69,99.85 L488.87,100.81 L489.05,101.76 L489.24,102.71 L489.42,103.66 L489.61,104.60 L489.80,105.53 L489.99,106.46 L490.18,107.38 L490.37,108.29 L490.56,109.20 L490.75,110.11 L490.94,111.01 L491.14,111.91 L491.33,112.80 L491.53,113.68 L491.73,114.56 L491.93,115.43 L492.13,116.30 L492.33,117.17 L492.53,118.03 L492.73,118.88 L492.94,119.73 L493.14,120.57 L493.35,121.41 L493.55,122.24 L493.76,123.07 L493.97,123.90 L494.18,124.72 L494.39,125.53 L494.61,126.34 L494.82,127.15 L495.03,127.95 L495.25,128.74 L495.47,129.53 L495.68,130.32 L495.90,131.10 L496.12,131.88 L496.35,132.65 L496.57,133.42 L496.79,134.18 L497.02,134.94 L497.24,135.70 L497.47,136.45 L497.70,137.19 L497.93,137.93 L498.16,138.67 L498.39,139.40 L498.63,140.13 L498.86,140.86 L499.10,141.58 L499.33,142.29 L499.57,143.00 L499.81,143.71 L500.05,144.42 L500.29,145.11 L500.54,145.81 L500.78,146.50 L501.03,147.19 L501.27,147.87 L501.52,148.55 L501.77,149.22 L502.02,149.90 L502.28,150.56 L502.53,151.23 L502.78,151.89 L503.04,152.54 L503.30,153.19 L503.56,153.84 L503.82,154.48 L504.08,155.12 L504.34,155.76 L504.61,156.39 L504.87,157.02 L505.14,157.65 L505.41,158.27 L505.68,158.89 L505.95,159.50 L506.22,160.11 L506.49,160.72 L506.77,161.33 L507.05,161.93 L507.33,162.52 L507.61,163.12 L507.89,163.71 L508.17,164.29 L508.45,164.88 L508.74,165.45 L509.03,166.03 L509.32,166.60 L509.61,167.17 L509.90,167.74 L510.19,168.30 L510.49,168.86 L510.78,169.42 L511.08,169.97 L511.38,170.52 L511.68,171.07 L511.98,171.61 L512.29,172.15 L512.59,172.69 L512.90,173.23 L513.21,173.76 L513.52,174.28 L513.83,174.81 L514.15,175.33 L514.46,175.85 L514.78,176.37 L515.10,176.88 L515.42,177.39 L515.74,177.90 L516.06,178.40 L516.39,178.90 L516.72,179.40 L517.04,179.90 L517.37,180.39 L517.71,180.88 L518.04,181.37 L518.38,181.85 L518.71,182.33 L519.05,182.81 L519.39,183.29 L519.74,183.76 L520.08,184.23 L520.43,184.70 L520.78,185.16 L521.13,185.62 L521.48,186.08 L521.83,186.54 L522.19,187.00 L522.54,187.45 L522.90,187.90 L523.26,188.34 L523.63,188.79 L523.99,189.23 L524.36,189.67 L524.73,190.10 L525.10,190.54 L525.47,190.97 L525.85,191.40 L526.22,191.82 L526.60,192.25 L526.98,192.67 L527.36,193.09 L527.75,193.51 L528.13,193.92 L528.52,194.33 L528.91,194.74 L529.30,195.15 L529.70,195.55 L530.09,195.96 L530.49,196.36 L530.89,196.76 L531.30,197.15 L531.70,197.54 L532.11,197.94 L532.52,198.32 L532.93,198.71 L533.34,199.10 L533.76,199.48 L534.17,199.86 L534.59,200.24 L535.02,200.61 L535.44,200.99 L535.87,201.36 L536.29,201.73 L536.73,202.09 L537.16,202.46 L537.59,202.82 L538.03,203.18 L538.47,203.54 L538.91,203.90 L539.36,204.25 L539.80,204.60 L540.25,204.96 L540.71,205.30 L541.16,205.65 L541.62,205.99 L542.07,206.34 L542.53,206.68 L543.00,207.02 L543.46,207.35 L543.93,207.69 L544.40,208.02 L544.88,208.35 L545.35,208.68 L545.83,209.01 L546.31,209.33 L546.79,209.65 L547.28,209.97 L547.77,210.29 L548.26,210.61 L548.75,210.93 L549.25,211.24 L549.74,211.55 L550.24,211.86 L550.75,212.17 L551.25,212.47 L551.76,212.78 L552.27,213.08 L552.79,213.38 L553.30,213.68 L553.82,213.98 L554.35,214.27 L554.87,214.57 L555.40,214.86 L555.93,215.15 L556.46,215.44 L557.00,215.72 L557.54,216.01 L558.08,216.29 L558.62,216.57 L559.17,216.85 L559.72,217.13 L560.27,217.41 L560.83,217.68 L561.39,217.95 L561.95,218.23 L562.51,218.49 L563.08,218.76 L563.65,219.03 L564.22,219.29 L564.80,219.56 L565.38,219.82 L565.96,220.08 L566.55,220.34 L567.14,220.59 L567.73,220.85 L568.32,221.10 L568.92,221.35 L569.52,221.60 L570.12,221.85 L570.73,222.10 L571.34,222.34 L571.95,222.59 L572.57,222.83 L573.19,223.07 L573.81,223.31 L574.44,223.55 L575.07,223.78 L575.70,224.02 L576.34,224.25 L576.98,224.48 L577.62,224.71 L578.27,224.94 L578.92,225.17 L579.57,225.40 L580.22,225.62 L580.88,225.84 L581.55,226.07 L582.21,226.29 L582.88,226.50 L583.56,226.72 L584.23,226.94 L584.92,227.15 L585.60,227.37 L586.29,227.58 L586.98,227.79 L587.67,228.00 L588.37,228.20 L589.07,228.41 L589.78,228.62 L590.49,228.82 L591.20,229.02 L591.92,229.22 L592.64,229.42 L593.36,229.62 L594.09,229.82 L594.82,230.02 L595.56,230.21 L596.30,230.40 L597.04,230.60 L597.79,230.79 L598.54,230.98 L599.30,231.17 L600.05,231.35 L600.82,231.54 L601.58,231.72 L602.36,231.91 L603.13,232.09 L603.91,232.27 L604.69,232.45 L605.48,232.63 L606.27,232.81 L607.07,232.99 L607.87,233.16 L608.67,233.34 L609.48,233.51 L610.29,233.68 L611.11,233.85 L611.93,234.02 L612.75,234.19 L613.58,234.36 L614.41,234.53 L615.25,234.69 L616.09,234.86 L616.94,235.02 L617.79,235.18 L618.65,235.34 L619.51,235.50 L620.37,235.66 L621.24,235.82 L622.11,235.98 L622.99,236.14 L623.87,236.29 L624.76,236.45 L625.65,236.60 L626.55,236.75 L627.45,236.90 L628.35,237.06 L629.26,237.21 L630.18,237.35 L631.10,237.50 L632.02,237.65 L632.95,237.80 L633.89,237.94 L634.83,238.09 L635.77,238.23 L636.72,238.37 L637.67,238.51 L638.63,238.65 L639.60,238.79 L640.57,238.93 L641.54,239.07 L642.52,239.21 L643.50,239.35 L644.49,239.48 L645.49,239.62 L646.49,239.75 L647.49,239.88 L648.50,240.02 L649.52,240.15 L650.54,240.28 L651.56,240.41 L652.59,240.54 L653.63,240.67 L654.67,240.80 L655.72,240.92 L656.77,241.05 L657.83,241.18 L658.90,241.30 L659.97,241.43 L661.04,241.55 L662.12,241.67 L663.21,241.79 L664.30,241.92 L665.40,242.04 L666.50,242.16 L667.61,242.28 L668.72,242.39 L669.85,242.51 L670.97,242.63 L672.10,242.75 L673.24,242.86 L674.39,242.98 L675.54,243.09 L676.69,243.21 L677.86,243.32 L679.02,243.43 L680.20,243.54 L681.38,243.65 L682.57,243.76 L683.76,243.87 L684.96,243.98 L686.16,244.09 L687.37,244.20 L688.59,244.31 L689.82,244.42 L691.05,244.52 L692.28,244.63 L693.53,244.73 L694.78,244.84 L696.03,244.94 L697.30,245.04 L698.57,245.15 L699.84,245.25 L701.12,245.35 L702.41,245.45 L703.71,245.55 L705.01,245.65 L706.32,245.75 L707.64,245.85 L708.96,245.95 L710.29,246.04 L711.63,246.14 L712.97,246.24 L714.33,246.33 L715.68,246.43 L717.05,246.52 L718.42,246.62 L719.80,246.71 L721.19,246.80 L722.58,246.90 L723.98,246.99 L725.39,247.08 L726.81,247.17 L728.23,247.26 L729.66,247.35 L731.10,247.44 L732.55,247.53 L734.00,247.62 L735.46,247.71 L736.93,247.79 L738.40,247.88 L739.89,247.97 L741.38,248.05 L742.88,248.14 L744.39,248.22 L745.90,248.31 L747.42,248.39 L748.95,248.48 L750.49,248.56 L752.04,248.64 L753.59,248.72 L755.16,248.80 L756.73,248.89 L758.31,248.97 L759.89,249.05 L761.49,249.13 L763.09,249.21 L764.71,249.28 L766.33,249.36 L767.96,249.44 L769.59,249.52 L771.24,249.59 L772.89,249.67 L774.56,249.75 L776.23,249.82 L777.91,249.90 L779.60,249.97" fill="none" stroke="#000" stroke-width="1.65" stroke-linejoin="round"/>
<path d="M502.90,16.40 L503.08,17.47 L503.27,18.54 L503.46,19.60 L503.65,20.66 L503.84,21.72 L504.03,22.77 L504.22,23.81 L504.41,24.85 L504.61,25.89 L504.80,26.92 L504.99,27.95 L505.19,28.97 L505.38,29.99 L505.58,31.01 L505.78,32.02 L505.98,33.02 L506.17,34.02 L506.37,35.02 L506.57,36.02 L506.78,37.00 L506.98,37.99 L507.18,38.97 L507.38,39.95 L507.59,40.92 L507.79,41.89 L508.00,42.85 L508.20,43.81 L508.41,44.77 L508.62,45.72 L508.83,46.67 L509.04,47.61 L509.25,48.55 L509.46,49.49 L509.67,50.42 L509.88,51.35 L510.10,52.27 L510.31,53.19 L510.52,54.11 L510.74,55.02 L510.96,55.93 L511.17,56.83 L511.39,57.73 L511.61,58.63 L511.83,59.52 L512.05,60.41 L512.28,61.30 L512.50,62.18 L512.72,63.06 L512.95,63.93 L513.17,64.80 L513.40,65.67 L513.62,66.53 L513.85,67.39 L514.08,68.25 L514.31,69.10 L514.54,69.95 L514.77,70.80 L515.00,71.64 L515.23,72.48 L515.47,73.31 L515.70,74.14 L515.94,74.97 L516.18,75.79 L516.41,76.61 L516.65,77.43 L516.89,78.25 L517.13,79.06 L517.37,79.86 L517.61,80.67 L517.86,81.47 L518.10,82.26 L518.34,83.06 L518.59,83.85 L518.84,84.63 L519.08,85.42 L519.33,86.20 L519.58,86.97 L519.83,87.75 L520.08,88.52 L520.33,89.29 L520.59,90.05 L520.84,90.81 L521.10,91.57 L521.35,92.32 L521.61,93.07 L521.87,93.82 L522.13,94.57 L522.39,95.31 L522.65,96.05 L522.91,96.78 L523.17,97.52 L523.44,98.25 L523.70,98.97 L523.97,99.70 L524.23,100.42 L524.50,101.13 L524.77,101.85 L525.04,102.56 L525.31,103.27 L525.58,103.97 L525.86,104.68 L526.13,105.37 L526.41,106.07 L526.68,106.77 L526.96,107.46 L527.24,108.14 L527.52,108.83 L527.80,109.51 L528.08,110.19 L528.36,110.87 L528.64,111.54 L528.93,112.21 L529.21,112.88 L529.50,113.54 L529.79,114.21 L530.08,114.87 L530.37,115.52 L530.66,116.18 L530.95,116.83 L531.25,117.48 L531.54,118.12 L531.84,118.77 L532.13,119.41 L532.43,120.05 L532.73,120.68 L533.03,121.31 L533.33,121.94 L533.63,122.57 L533.94,123.19 L534.24,123.82 L534.55,124.44 L534.85,125.05 L535.16,125.67 L535.47,126.28 L535.78,126.89 L536.09,127.49 L536.41,128.10 L536.72,128.70 L537.04,129.30 L537.35,129.90 L537.67,130.49 L537.99,131.08 L538.31,131.67 L538.63,132.26 L538.95,132.84 L539.28,133.42 L539.60,134.00 L539.93,134.58 L540.25,135.15 L540.58,135.72 L540.91,136.29 L541.24,136.86 L541.58,137.42 L541.91,137.98 L542.25,138.54 L542.58,139.10 L542.92,139.66 L543.26,140.21 L543.60,140.76 L543.94,141.31 L544.28,141.85 L544.63,142.40 L544.97,142.94 L545.32,143.48 L545.67,144.01 L546.01,144.55 L546.37,145.08 L546.72,145.61 L547.07,146.13 L547.43,146.66 L547.78,147.18 L548.14,147.70 L548.50,148.22 L548.86,148.74 L549.22,149.25 L549.58,149.76 L549.94,150.27 L550.31,150.78 L550.68,151.28 L551.04,151.78 L551.41,152.29 L551.79,152.78 L552.16,153.28 L552.53,153.77 L552.91,154.27 L553.28,154.76 L553.66,155.24 L554.04,155.73 L554.42,156.21 L554.80,156.69 L555.19,157.17 L555.57,157.65 L555.96,158.12 L556.35,158.60 L556.74,159.07 L557.13,159.54 L557.52,160.00 L557.92,160.47 L558.31,160.93 L558.71,161.39 L559.11,161.85 L559.51,162.30 L559.91,162.76 L560.31,163.21 L560.72,163.66 L561.12,164.11 L561.53,164.56 L561.94,165.00 L562.35,165.44 L562.76,165.88 L563.18,166.32 L563.59,166.76 L564.01,167.19 L564.43,167.62 L564.85,168.05 L565.27,168.48 L565.70,168.91 L566.12,169.33 L566.55,169.76 L566.98,170.18 L567.41,170.60 L567.84,171.01 L568.27,171.43 L568.71,171.84 L569.14,172.25 L569.58,172.66 L570.02,173.07 L570.46,173.47 L570.91,173.88 L571.35,174.28 L571.80,174.68 L572.25,175.08 L572.70,175.48 L573.15,175.87 L573.60,176.26 L574.06,176.65 L574.51,177.04 L574.97,177.43 L575.43,177.82 L575.89,178.20 L576.36,178.58 L576.82,178.96 L577.29,179.34 L577.76,179.72 L578.23,180.09 L578.70,180.47 L579.18,180.84 L579.65,181.21 L580.13,181.58 L580.61,181.94 L581.09,182.31 L581.58,182.67 L582.06,183.03 L582.55,183.39 L583.04,183.75 L583.53,184.10 L584.02,184.46 L584.52,184.81 L585.01,185.16 L585.51,185.51 L586.01,185.86 L586.51,186.21 L587.02,186.55 L587.52,186.89 L588.03,187.24 L588.54,187.57 L589.05,187.91 L589.57,188.25 L590.08,188.58 L590.60,188.92 L591.12,189.25 L591.64,189.58 L592.17,189.91 L592.69,190.24 L593.22,190.56 L593.75,190.89 L594.28,191.21 L594.81,191.53 L595.35,191.85 L595.89,192.17 L596.43,192.48 L596.97,192.80 L597.51,193.11 L598.06,193.42 L598.61,193.73 L599.16,194.04 L599.71,194.35 L600.26,194.66 L600.82,194.96 L601.38,195.27 L601.94,195.57 L602.50,195.87 L603.06,196.17 L603.63,196.47 L604.20,196.76 L604.77,197.06 L605.35,197.35 L605.92,197.64 L606.50,197.93 L607.08,198.22 L607.66,198.51 L608.24,198.80 L608.83,199.08 L609.42,199.37 L610.01,199.65 L610.60,199.93 L611.20,200.21 L611.80,200.49 L612.40,200.77 L613.00,201.04 L613.60,201.32 L614.21,201.59 L614.82,201.86 L615.43,202.14 L616.05,202.41 L616.66,202.67 L617.28,202.94 L617.90,203.21 L618.52,203.47 L619.15,203.74 L619.78,204.00 L620.41,204.26 L621.04,204.52 L621.68,204.78 L622.31,205.04 L622.95,205.29 L623.60,205.55 L624.24,205.80 L624.89,206.06 L625.54,206.31 L626.19,206.56 L626.84,206.81 L627.50,207.06 L628.16,207.30 L628.82,207.55 L629.49,207.79 L630.15,208.04 L630.82,208.28 L631.50,208.52 L632.17,208.76 L632.85,209.00 L633.53,209.24 L634.21,209.48 L634.90,209.72 L635.58,209.95 L636.27,210.19 L636.97,210.42 L637.66,210.65 L638.36,210.88 L639.06,211.11 L639.76,211.34 L640.47,211.57 L641.18,211.80 L641.89,212.02 L642.60,212.25 L643.32,212.47 L644.04,212.70 L644.76,212.92 L645.49,213.14 L646.22,213.36 L646.95,213.58 L647.68,213.80 L648.42,214.01 L649.15,214.23 L649.90,214.45 L650.64,214.66 L651.39,214.87 L652.14,215.09 L652.89,215.30 L653.65,215.51 L654.41,215.72 L655.17,215.93 L655.93,216.14 L656.70,216.34 L657.47,216.55 L658.24,216.76 L659.02,216.96 L659.80,217.16 L660.58,217.37 L661.37,217.57 L662.15,217.77 L662.94,217.97 L663.74,218.17 L664.54,218.37 L665.34,218.57 L666.14,218.76 L666.94,218.96 L667.75,219.15 L668.57,219.35 L669.38,219.54 L670.20,219.74 L671.02,219.93 L671.85,220.12 L672.67,220.31 L673.50,220.50 L674.34,220.69 L675.18,220.87 L676.02,221.06 L676.86,221.25 L677.71,221.43 L678.56,221.62 L679.41,221.80 L680.27,221.99 L681.13,222.17 L681.99,222.35 L682.86,222.53 L683.72,222.71 L684.60,222.89 L685.47,223.07 L686.35,223.25 L687.24,223.42 L688.12,223.60 L689.01,223.78 L689.90,223.95 L690.80,224.13 L691.70,224.30 L692.60,224.47 L693.51,224.64 L694.42,224.82 L695.33,224.99 L696.25,225.16 L697.17,225.33 L698.09,225.49 L699.02,225.66 L699.95,225.83 L700.89,226.00 L701.82,226.16 L702.77,226.33 L703.71,226.49 L704.66,226.65 L705.61,226.82 L706.57,226.98 L707.53,227.14 L708.49,227.30 L709.46,227.46 L710.43,227.62 L711.40,227.78 L712.38,227.94 L713.36,228.10 L714.35,228.25 L715.33,228.41 L716.33,228.57 L717.32,228.72 L718.32,228.88 L719.33,229.03 L720.34,229.18 L721.35,229.33 L722.36,229.49 L723.38,229.64 L724.41,229.79 L725.43,229.94 L726.46,230.09 L727.50,230.24 L728.54,230.38 L729.58,230.53 L730.63,230.68 L731.68,230.82 L732.73,230.97 L733.79,231.11 L734.85,231.26 L735.92,231.40 L736.99,231.55 L738.07,231.69 L739.15,231.83 L740.23,231.97 L741.32,232.11 L742.41,232.25 L743.50,232.39 L744.60,232.53 L745.71,232.67 L746.81,232.81 L747.93,232.94 L749.04,233.08 L750.16,233.22 L751.29,233.35 L752.42,233.49 L753.55,233.62 L754.69,233.76 L755.83,233.89 L756.98,234.02 L758.13,234.15 L759.28,234.29 L760.44,234.42 L761.60,234.55 L762.77,234.68 L763.94,234.81 L765.12,234.93 L766.30,235.06 L767.49,235.19 L768.68,235.32 L769.88,235.44 L771.07,235.57 L772.28,235.70 L773.49,235.82 L774.70,235.94 L775.92,236.07 L777.14,236.19 L778.37,236.31 L779.60,236.44" fill="none" stroke="#000" stroke-width="1.65" stroke-linejoin="round"/>
<path d="M534.00,16.40 L534.23,17.22 L534.45,18.04 L534.68,18.85 L534.91,19.66 L535.14,20.47 L535.36,21.28 L535.59,22.08 L535.82,22.88 L536.06,23.68 L536.29,24.48 L536.52,25.27 L536.75,26.06 L536.99,26.85 L537.22,27.64 L537.46,28.42 L537.69,29.21 L537.93,29.98 L538.16,30.76 L538.40,31.54 L538.64,32.31 L538.88,33.08 L539.12,33.84 L539.36,34.61 L539.60,35.37 L539.84,36.13 L540.08,36.89 L540.33,37.64 L540.57,38.40 L540.81,39.15 L541.06,39.90 L541.30,40.64 L541.55,41.39 L541.80,42.13 L542.05,42.87 L542.29,43.60 L542.54,44.34 L542.79,45.07 L543.04,45.80 L543.30,46.52 L543.55,47.25 L543.80,47.97 L544.05,48.69 L544.31,49.41 L544.56,50.13 L544.82,50.84 L545.07,51.55 L545.33,52.26 L545.59,52.97 L545.85,53.67 L546.11,54.37 L546.37,55.07 L546.63,55.77 L546.89,56.47 L547.15,57.16 L547.41,57.85 L547.68,58.54 L547.94,59.23 L548.21,59.91 L548.47,60.59 L548.74,61.27 L549.01,61.95 L549.27,62.63 L549.54,63.30 L549.81,63.97 L550.08,64.64 L550.35,65.31 L550.63,65.98 L550.90,66.64 L551.17,67.30 L551.45,67.96 L551.72,68.62 L552.00,69.27 L552.27,69.92 L552.55,70.57 L552.83,71.22 L553.11,71.87 L553.39,72.51 L553.67,73.15 L553.95,73.79 L554.23,74.43 L554.51,75.07 L554.80,75.70 L555.08,76.33 L555.36,76.96 L555.65,77.59 L555.94,78.21 L556.22,78.84 L556.51,79.46 L556.80,80.08 L557.09,80.69 L557.38,81.31 L557.67,81.92 L557.97,82.53 L558.26,83.14 L558.55,83.75 L558.85,84.36 L559.14,84.96 L559.44,85.56 L559.74,86.16 L560.04,86.76 L560.34,87.35 L560.64,87.95 L560.94,88.54 L561.24,89.13 L561.54,89.71 L561.84,90.30 L562.15,90.88 L562.45,91.47 L562.76,92.04 L563.06,92.62 L563.37,93.20 L563.68,93.77 L563.99,94.34 L564.30,94.91 L564.61,95.48 L564.92,96.05 L565.24,96.61 L565.55,97.18 L565.86,97.74 L566.18,98.30 L566.50,98.85 L566.81,99.41 L567.13,99.96 L567.45,100.51 L567.77,101.06 L568.09,101.61 L568.41,102.15 L568.73,102.70 L569.06,103.24 L569.38,103.78 L569.71,104.32 L570.03,104.86 L570.36,105.39 L570.69,105.92 L571.02,106.45 L571.35,106.98 L571.68,107.51 L572.01,108.04 L572.34,108.56 L572.68,109.08 L573.01,109.60 L573.35,110.12 L573.68,110.64 L574.02,111.15 L574.36,111.67 L574.70,112.18 L575.04,112.69 L575.38,113.20 L575.72,113.70 L576.06,114.21 L576.41,114.71 L576.75,115.21 L577.10,115.71 L577.45,116.21 L577.79,116.70 L578.14,117.20 L578.49,117.69 L578.84,118.18 L579.20,118.67 L579.55,119.16 L579.90,119.64 L580.26,120.13 L580.61,120.61 L580.97,121.09 L581.33,121.57 L581.69,122.05 L582.05,122.52 L582.41,123.00 L582.77,123.47 L583.13,123.94 L583.50,124.41 L583.86,124.87 L584.23,125.34 L584.59,125.81 L584.96,126.27 L585.33,126.73 L585.70,127.19 L586.07,127.65 L586.44,128.10 L586.82,128.56 L587.19,129.01 L587.57,129.46 L587.94,129.91 L588.32,130.36 L588.70,130.81 L589.08,131.25 L589.46,131.69 L589.84,132.14 L590.22,132.58 L590.61,133.02 L590.99,133.45 L591.38,133.89 L591.77,134.32 L592.15,134.76 L592.54,135.19 L592.93,135.62 L593.32,136.05 L593.72,136.47 L594.11,136.90 L594.51,137.32 L594.90,137.75 L595.30,138.17 L595.70,138.59 L596.10,139.00 L596.50,139.42 L596.90,139.83 L597.30,140.25 L597.70,140.66 L598.11,141.07 L598.51,141.48 L598.92,141.89 L599.33,142.29 L599.74,142.70 L600.15,143.10 L600.56,143.51 L600.97,143.91 L601.39,144.31 L601.80,144.70 L602.22,145.10 L602.64,145.50 L603.06,145.89 L603.48,146.28 L603.90,146.67 L604.32,147.06 L604.74,147.45 L605.17,147.84 L605.59,148.22 L606.02,148.61 L606.45,148.99 L606.88,149.37 L607.31,149.75 L607.74,150.13 L608.17,150.51 L608.61,150.89 L609.04,151.26 L609.48,151.64 L609.92,152.01 L610.36,152.38 L610.80,152.75 L611.24,153.12 L611.68,153.49 L612.13,153.85 L612.57,154.22 L613.02,154.58 L613.47,154.94 L613.91,155.30 L614.36,155.66 L614.82,156.02 L615.27,156.38 L615.72,156.74 L616.18,157.09 L616.64,157.44 L617.09,157.80 L617.55,158.15 L618.01,158.50 L618.48,158.85 L618.94,159.19 L619.40,159.54 L619.87,159.89 L620.34,160.23 L620.80,160.57 L621.27,160.92 L621.75,161.26 L622.22,161.60 L622.69,161.93 L623.17,162.27 L623.64,162.61 L624.12,162.94 L624.60,163.28 L625.08,163.61 L625.56,163.94 L626.04,164.27 L626.53,164.60 L627.01,164.93 L627.50,165.26 L627.99,165.58 L628.48,165.91 L628.97,166.23 L629.46,166.55 L629.96,166.87 L630.45,167.20 L630.95,167.52 L631.45,167.83 L631.95,168.15 L632.45,168.47 L632.95,168.78 L633.46,169.10 L633.96,169.41 L634.47,169.72 L634.98,170.03 L635.49,170.34 L636.00,170.65 L636.51,170.96 L637.02,171.27 L637.54,171.57 L638.05,171.88 L638.57,172.18 L639.09,172.49 L639.61,172.79 L640.14,173.09 L640.66,173.39 L641.19,173.69 L641.71,173.99 L642.24,174.28 L642.77,174.58 L643.30,174.87 L643.84,175.17 L644.37,175.46 L644.91,175.75 L645.44,176.05 L645.98,176.34 L646.52,176.63 L647.06,176.91 L647.61,177.20 L648.15,177.49 L648.70,177.77 L649.25,178.06 L649.80,178.34 L650.35,178.63 L650.90,178.91 L651.46,179.19 L652.01,179.47 L652.57,179.75 L653.13,180.03 L653.69,180.30 L654.25,180.58 L654.81,180.86 L655.38,181.13 L655.95,181.41 L656.52,181.68 L657.09,181.95 L657.66,182.22 L658.23,182.49 L658.80,182.76 L659.38,183.03 L659.96,183.30 L660.54,183.57 L661.12,183.83 L661.70,184.10 L662.29,184.36 L662.87,184.63 L663.46,184.89 L664.05,185.15 L664.64,185.41 L665.24,185.67 L665.83,185.93 L666.43,186.19 L667.02,186.45 L667.62,186.71 L668.23,186.96 L668.83,187.22 L669.43,187.47 L670.04,187.73 L670.65,187.98 L671.26,188.23 L671.87,188.49 L672.48,188.74 L673.10,188.99 L673.71,189.24 L674.33,189.48 L674.95,189.73 L675.57,189.98 L676.20,190.23 L676.82,190.47 L677.45,190.72 L678.08,190.96 L678.71,191.20 L679.34,191.44 L679.98,191.69 L680.61,191.93 L681.25,192.17 L681.89,192.41 L682.53,192.65 L683.17,192.88 L683.82,193.12 L684.47,193.36 L685.11,193.59 L685.76,193.83 L686.42,194.06 L687.07,194.30 L687.73,194.53 L688.38,194.76 L689.04,194.99 L689.71,195.22 L690.37,195.45 L691.03,195.68 L691.70,195.91 L692.37,196.14 L693.04,196.36 L693.71,196.59 L694.39,196.82 L695.06,197.04 L695.74,197.27 L696.42,197.49 L697.11,197.71 L697.79,197.93 L698.48,198.16 L699.16,198.38 L699.85,198.60 L700.54,198.82 L701.24,199.04 L701.93,199.25 L702.63,199.47 L703.33,199.69 L704.03,199.90 L704.74,200.12 L705.44,200.33 L706.15,200.55 L706.86,200.76 L707.57,200.97 L708.28,201.19 L709.00,201.40 L709.72,201.61 L710.44,201.82 L711.16,202.03 L711.88,202.24 L712.61,202.45 L713.33,202.65 L714.06,202.86 L714.80,203.07 L715.53,203.27 L716.27,203.48 L717.00,203.68 L717.74,203.89 L718.49,204.09 L719.23,204.29 L719.98,204.49 L720.72,204.69 L721.48,204.90 L722.23,205.10 L722.98,205.29 L723.74,205.49 L724.50,205.69 L725.26,205.89 L726.02,206.09 L726.79,206.28 L727.55,206.48 L728.32,206.67 L729.10,206.87 L729.87,207.06 L730.65,207.25 L731.42,207.45 L732.21,207.64 L732.99,207.83 L733.77,208.02 L734.56,208.21 L735.35,208.40 L736.14,208.59 L736.93,208.78 L737.73,208.97 L738.53,209.15 L739.33,209.34 L740.13,209.53 L740.94,209.71 L741.74,209.90 L742.55,210.08 L743.37,210.27 L744.18,210.45 L745.00,210.63 L745.81,210.81 L746.64,211.00 L747.46,211.18 L748.28,211.36 L749.11,211.54 L749.94,211.72 L750.77,211.90 L751.61,212.07 L752.45,212.25 L753.29,212.43 L754.13,212.60 L754.97,212.78 L755.82,212.96 L756.67,213.13 L757.52,213.31 L758.37,213.48 L759.23,213.65 L760.09,213.82 L760.95,214.00 L761.81,214.17 L762.68,214.34 L763.55,214.51 L764.42,214.68 L765.29,214.85 L766.17,215.02 L767.04,215.19 L767.92,215.35 L768.81,215.52 L769.69,215.69 L770.58,215.85 L771.47,216.02 L772.37,216.18 L773.26,216.35 L774.16,216.51 L775.06,216.68 L775.96,216.84 L776.87,217.00 L777.78,217.16 L778.69,217.33 L779.60,217.49" fill="none" stroke="#000" stroke-width="1.65" stroke-linejoin="round"/>
<rect x="57.4" y="324.4" width="326.70" height="244.40" fill="none" stroke="#555" stroke-width="1"/>
<path d="M57.40,568.8V565.50M57.40,324.4V327.70" stroke="#555"/>
<path d="M139.08,568.8V565.50M139.08,324.4V327.70" stroke="#555"/>
<path d="M220.75,568.8V565.50M220.75,324.4V327.70" stroke="#555"/>
<path d="M302.43,568.8V565.50M302.43,324.4V327.70" stroke="#555"/>
<path d="M384.10,568.8V565.50M384.10,324.4V327.70" stroke="#555"/>
<path d="M57.4,568.80H60.70M384.1,568.80H380.80" stroke="#555"/>
<path d="M57.4,519.92H60.70M384.1,519.92H380.80" stroke="#555"/>
<path d="M57.4,471.04H60.70M384.1,471.04H380.80" stroke="#555"/>
<path d="M57.4,422.16H60.70M384.1,422.16H380.80" stroke="#555"/>
<path d="M57.4,373.28H60.70M384.1,373.28H380.80" stroke="#555"/>
<path d="M57.4,324.40H60.70M384.1,324.40H380.80" stroke="#555"/>
<path d="M64.26,324.40 L64.31,326.54 L64.36,328.67 L64.42,330.78 L64.47,332.86 L64.53,334.93 L64.58,336.99 L64.64,339.02 L64.70,341.04 L64.75,343.03 L64.81,345.02 L64.87,346.98 L64.93,348.93 L64.98,350.85 L65.04,352.77 L65.10,354.66 L65.16,356.54 L65.22,358.40 L65.28,360.25 L65.34,362.08 L65.41,363.90 L65.47,365.69 L65.53,367.48 L65.59,369.24 L65.66,370.99 L65.72,372.73 L65.79,374.45 L65.85,376.16 L65.92,377.85 L65.98,379.52 L66.05,381.18 L66.12,382.83 L66.19,384.46 L66.25,386.08 L66.32,387.69 L66.39,389.28 L66.46,390.85 L66.53,392.41 L66.60,393.96 L66.68,395.50 L66.75,397.02 L66.82,398.53 L66.89,400.02 L66.97,401.50 L67.04,402.97 L67.12,404.43 L67.19,405.87 L67.27,407.30 L67.34,408.72 L67.42,410.12 L67.50,411.52 L67.58,412.90 L67.66,414.27 L67.74,415.62 L67.82,416.97 L67.90,418.30 L67.98,419.62 L68.06,420.93 L68.15,422.23 L68.23,423.52 L68.31,424.80 L68.40,426.06 L68.48,427.31 L68.57,428.56 L68.66,429.79 L68.74,431.01 L68.83,432.22 L68.92,433.42 L69.01,434.61 L69.10,435.79 L69.19,436.96 L69.28,438.11 L69.38,439.26 L69.47,440.40 L69.56,441.53 L69.66,442.65 L69.75,443.76 L69.85,444.85 L69.95,445.94 L70.04,447.02 L70.14,448.09 L70.24,449.15 L70.34,450.20 L70.44,451.25 L70.54,452.28 L70.64,453.30 L70.75,454.32 L70.85,455.32 L70.96,456.32 L71.06,457.31 L71.17,458.29 L71.27,459.26 L71.38,460.22 L71.49,461.18 L71.60,462.12 L71.71,463.06 L71.82,463.99 L71.93,464.91 L72.05,465.83 L72.16,466.73 L72.27,467.63 L72.39,468.52 L72.51,469.40 L72.62,470.27 L72.74,471.14 L72.86,472.00 L72.98,472.85 L73.10,473.69 L73.23,474.53 L73.35,475.36 L73.47,476.18 L73.60,477.00 L73.72,477.80 L73.85,478.60 L73.98,479.40 L74.11,480.18 L74.24,480.96 L74.37,481.74 L74.50,482.50 L74.63,483.26 L74.77,484.01 L74.90,484.76 L75.04,485.50 L75.17,486.23 L75.31,486.96 L75.45,487.68 L75.59,488.39 L75.73,489.10 L75.88,489.80 L76.02,490.50 L76.16,491.19 L76.31,491.87 L76.46,492.55 L76.61,493.22 L76.75,493.88 L76.90,494.54 L77.06,495.20 L77.21,495.84 L77.36,496.49 L77.52,497.12 L77.67,497.75 L77.83,498.38 L77.99,499.00 L78.15,499.61 L78.31,500.22 L78.48,500.83 L78.64,501.43 L78.80,502.02 L78.97,502.61 L79.14,503.19 L79.31,503.77 L79.48,504.34 L79.65,504.91 L79.82,505.47 L80.00,506.03 L80.17,506.58 L80.35,507.13 L80.53,507.67 L80.71,508.21 L80.89,508.75 L81.07,509.28 L81.25,509.80 L81.44,510.32 L81.63,510.84 L81.82,511.35 L82.01,511.85 L82.20,512.35 L82.39,512.85 L82.58,513.35 L82.78,513.83 L82.98,514.32 L83.18,514.80 L83.38,515.28 L83.58,515.75 L83.78,516.22 L83.99,516.68 L84.19,517.14 L84.40,517.59 L84.61,518.05 L84.82,518.49 L85.04,518.94 L85.25,519.38 L85.47,519.81 L85.68,520.25 L85.90,520.67 L86.13,521.10 L86.35,521.52 L86.57,521.94 L86.80,522.35 L87.03,522.76 L87.26,523.17 L87.49,523.57 L87.73,523.97 L87.96,524.37 L88.20,524.76 L88.44,525.15 L88.68,525.53 L88.92,525.91 L89.17,526.29 L89.42,526.67 L89.66,527.04 L89.91,527.41 L90.17,527.77 L90.42,528.14 L90.68,528.50 L90.94,528.85 L91.20,529.21 L91.46,529.56 L91.73,529.90 L91.99,530.25 L92.26,530.59 L92.53,530.92 L92.81,531.26 L93.08,531.59 L93.36,531.92 L93.64,532.25 L93.92,532.57 L94.20,532.89 L94.49,533.21 L94.78,533.52 L95.07,533.83 L95.36,534.14 L95.66,534.45 L95.95,534.75 L96.25,535.06 L96.55,535.35 L96.86,535.65 L97.17,535.94 L97.47,536.23 L97.79,536.52 L98.10,536.81 L98.42,537.09 L98.74,537.37 L99.06,537.65 L99.38,537.93 L99.71,538.20 L100.04,538.47 L100.37,538.74 L100.70,539.01 L101.04,539.27 L101.38,539.53 L101.72,539.79 L102.06,540.05 L102.41,540.30 L102.76,540.55 L103.11,540.81 L103.47,541.05 L103.83,541.30 L104.19,541.54 L104.55,541.79 L104.92,542.02 L105.29,542.26 L105.66,542.50 L106.03,542.73 L106.41,542.96 L106.79,543.19 L107.18,543.42 L107.56,543.64 L107.95,543.87 L108.35,544.09 L108.74,544.31 L109.14,544.53 L109.54,544.74 L109.95,544.95 L110.36,545.17 L110.77,545.38 L111.18,545.58 L111.60,545.79 L112.02,545.99 L112.45,546.20 L112.88,546.40 L113.31,546.60 L113.74,546.79 L114.18,546.99 L114.62,547.18 L115.07,547.38 L115.51,547.57 L115.97,547.76 L116.42,547.94 L116.88,548.13 L117.34,548.31 L117.81,548.49 L118.28,548.68 L118.75,548.85 L119.23,549.03 L119.71,549.21 L120.19,549.38 L120.68,549.56 L121.17,549.73 L121.67,549.90 L122.17,550.07 L122.67,550.23 L123.18,550.40 L123.69,550.56 L124.20,550.72 L124.72,550.89 L125.25,551.05 L125.77,551.20 L126.31,551.36 L126.84,551.52 L127.38,551.67 L127.93,551.82 L128.47,551.97 L129.03,552.12 L129.58,552.27 L130.14,552.42 L130.71,552.57 L131.28,552.71 L131.85,552.86 L132.43,553.00 L133.02,553.14 L133.60,553.28 L134.20,553.42 L134.79,553.56 L135.39,553.69 L136.00,553.83 L136.61,553.96 L137.23,554.09 L137.85,554.23 L138.47,554.36 L139.10,554.48 L139.74,554.61 L140.38,554.74 L141.02,554.87 L141.67,554.99 L142.33,555.11 L142.99,555.24 L143.65,555.36 L144.32,555.48 L145.00,555.60 L145.68,555.72 L146.37,555.83 L147.06,555.95 L147.75,556.07 L148.46,556.18 L149.16,556.29 L149.88,556.41 L150.60,556.52 L151.32,556.63 L152.05,556.74 L152.79,556.84 L153.53,556.95 L154.28,557.06 L155.03,557.16 L155.79,557.27 L156.55,557.37 L157.32,557.47 L158.10,557.58 L158.88,557.68 L159.67,557.78 L160.47,557.88 L161.27,557.98 L162.07,558.07 L162.89,558.17 L163.71,558.26 L164.53,558.36 L165.37,558.45 L166.21,558.55 L167.05,558.64 L167.90,558.73 L168.76,558.82 L169.63,558.91 L170.50,559.00 L171.38,559.09 L172.27,559.18 L173.16,559.26 L174.06,559.35 L174.97,559.44 L175.88,559.52 L176.80,559.60 L177.73,559.69 L178.66,559.77 L179.61,559.85 L180.56,559.93 L181.51,560.01 L182.48,560.09 L183.45,560.17 L184.43,560.25 L185.42,560.33 L186.41,560.40 L187.42,560.48 L188.43,560.55 L189.44,560.63 L190.47,560.70 L191.50,560.78 L192.55,560.85 L193.60,560.92 L194.66,560.99 L195.72,561.06 L196.80,561.13 L197.88,561.20 L198.97,561.27 L200.07,561.34 L201.18,561.41 L202.30,561.48 L203.43,561.54 L204.56,561.61 L205.71,561.67 L206.86,561.74 L208.02,561.80 L209.19,561.87 L210.37,561.93 L211.56,561.99 L212.76,562.06 L213.97,562.12 L215.18,562.18 L216.41,562.24 L217.65,562.30 L218.89,562.36 L220.15,562.42 L221.41,562.48 L222.69,562.53 L223.97,562.59 L225.27,562.65 L226.57,562.70 L227.89,562.76 L229.21,562.81 L230.55,562.87 L231.89,562.92 L233.25,562.98 L234.61,563.03 L235.99,563.08 L237.38,563.14 L238.78,563.19 L240.19,563.24 L241.61,563.29 L243.04,563.34 L244.48,563.39 L245.94,563.44 L247.40,563.49 L248.88,563.54 L250.37,563.59 L251.87,563.64 L253.38,563.68 L254.90,563.73 L256.44,563.78 L257.99,563.82 L259.55,563.87 L261.12,563.92 L262.70,563.96 L264.30,564.01 L265.90,564.05 L267.53,564.09 L269.16,564.14 L270.80,564.18 L272.46,564.22 L274.13,564.27 L275.82,564.31 L277.52,564.35 L279.23,564.39 L280.95,564.43 L282.69,564.47 L284.44,564.51 L286.21,564.55 L287.98,564.59 L289.78,564.63 L291.58,564.67 L293.40,564.71 L295.24,564.75 L297.09,564.78 L298.95,564.82 L300.83,564.86 L302.72,564.90 L304.63,564.93 L306.55,564.97 L308.48,565.00 L310.44,565.04 L312.40,565.07 L314.38,565.11 L316.38,565.14 L318.40,565.18 L320.42,565.21 L322.47,565.25 L324.53,565.28 L326.60,565.31 L328.70,565.34 L330.81,565.38 L332.93,565.41 L335.07,565.44 L337.23,565.47 L339.41,565.50 L341.60,565.54 L343.81,565.57 L346.03,565.60 L348.28,565.63 L350.54,565.66 L352.82,565.69 L355.11,565.72 L357.43,565.75 L359.76,565.77 L362.11,565.80 L364.48,565.83 L366.86,565.86 L369.27,565.89 L371.69,565.91 L374.14,565.94 L376.60,565.97 L379.08,566.00 L381.58,566.02 L384.10,566.05" fill="none" stroke="#000" stroke-width="1.65" stroke-linejoin="round"/>
<path d="M80.54,324.40 L80.66,325.88 L80.78,327.35 L80.91,328.81 L81.03,330.26 L81.16,331.70 L81.28,333.13 L81.41,334.56 L81.54,335.98 L81.67,337.38 L81.80,338.78 L81.93,340.18 L82.06,341.56 L82.19,342.93 L82.32,344.30 L82.45,345.66 L82.59,347.01 L82.72,348.35 L82.85,349.68 L82.99,351.01 L83.13,352.33 L83.26,353.64 L83.40,354.94 L83.54,356.23 L83.68,357.52 L83.82,358.80 L83.96,360.07 L84.10,361.33 L84.24,362.59 L84.38,363.84 L84.53,365.08 L84.67,366.31 L84.82,367.54 L84.96,368.75 L85.11,369.96 L85.26,371.17 L85.41,372.37 L85.55,373.55 L85.70,374.74 L85.85,375.91 L86.01,377.08 L86.16,378.24 L86.31,379.39 L86.47,380.54 L86.62,381.68 L86.78,382.82 L86.93,383.94 L87.09,385.06 L87.25,386.17 L87.41,387.28 L87.56,388.38 L87.73,389.47 L87.89,390.56 L88.05,391.64 L88.21,392.71 L88.38,393.78 L88.54,394.84 L88.71,395.89 L88.87,396.94 L89.04,397.98 L89.21,399.02 L89.38,400.05 L89.55,401.07 L89.72,402.09 L89.89,403.10 L90.06,404.10 L90.24,405.10 L90.41,406.09 L90.59,407.08 L90.76,408.06 L90.94,409.03 L91.12,410.00 L91.30,410.97 L91.48,411.92 L91.66,412.87 L91.84,413.82 L92.03,414.76 L92.21,415.69 L92.40,416.62 L92.58,417.55 L92.77,418.46 L92.96,419.38 L93.15,420.28 L93.34,421.18 L93.53,422.08 L93.72,422.97 L93.91,423.85 L94.11,424.73 L94.30,425.61 L94.50,426.48 L94.70,427.34 L94.90,428.20 L95.10,429.05 L95.30,429.90 L95.50,430.74 L95.70,431.58 L95.90,432.42 L96.11,433.24 L96.31,434.07 L96.52,434.89 L96.73,435.70 L96.94,436.51 L97.15,437.31 L97.36,438.11 L97.57,438.90 L97.79,439.69 L98.00,440.48 L98.22,441.26 L98.43,442.03 L98.65,442.80 L98.87,443.57 L99.09,444.33 L99.32,445.08 L99.54,445.84 L99.76,446.58 L99.99,447.33 L100.21,448.06 L100.44,448.80 L100.67,449.53 L100.90,450.25 L101.13,450.97 L101.37,451.69 L101.60,452.40 L101.83,453.11 L102.07,453.81 L102.31,454.51 L102.55,455.21 L102.79,455.90 L103.03,456.59 L103.27,457.27 L103.52,457.95 L103.76,458.62 L104.01,459.29 L104.26,459.96 L104.50,460.62 L104.76,461.28 L105.01,461.93 L105.26,462.58 L105.52,463.23 L105.77,463.87 L106.03,464.51 L106.29,465.15 L106.55,465.78 L106.81,466.40 L107.07,467.03 L107.34,467.65 L107.60,468.26 L107.87,468.88 L108.14,469.48 L108.41,470.09 L108.68,470.69 L108.95,471.29 L109.23,471.88 L109.50,472.47 L109.78,473.06 L110.06,473.64 L110.34,474.22 L110.62,474.80 L110.90,475.37 L111.19,475.94 L111.47,476.51 L111.76,477.07 L112.05,477.63 L112.34,478.19 L112.63,478.74 L112.93,479.29 L113.22,479.83 L113.52,480.38 L113.82,480.92 L114.12,481.45 L114.42,481.99 L114.72,482.52 L115.03,483.04 L115.33,483.56 L115.64,484.09 L115.95,484.60 L116.26,485.12 L116.58,485.63 L116.89,486.13 L117.21,486.64 L117.53,487.14 L117.85,487.64 L118.17,488.14 L118.49,488.63 L118.82,489.12 L119.14,489.60 L119.47,490.09 L119.80,490.57 L120.13,491.05 L120.47,491.52 L120.80,491.99 L121.14,492.46 L121.48,492.93 L121.82,493.39 L122.16,493.86 L122.51,494.31 L122.85,494.77 L123.20,495.22 L123.55,495.67 L123.90,496.12 L124.26,496.56 L124.61,497.01 L124.97,497.45 L125.33,497.88 L125.69,498.32 L126.06,498.75 L126.42,499.18 L126.79,499.60 L127.16,500.03 L127.53,500.45 L127.90,500.87 L128.28,501.28 L128.65,501.69 L129.03,502.11 L129.41,502.51 L129.80,502.92 L130.18,503.32 L130.57,503.73 L130.96,504.12 L131.35,504.52 L131.74,504.91 L132.14,505.31 L132.54,505.70 L132.94,506.08 L133.34,506.47 L133.74,506.85 L134.15,507.23 L134.56,507.61 L134.97,507.98 L135.38,508.35 L135.79,508.73 L136.21,509.09 L136.63,509.46 L137.05,509.83 L137.48,510.19 L137.90,510.55 L138.33,510.90 L138.76,511.26 L139.19,511.61 L139.63,511.96 L140.07,512.31 L140.51,512.66 L140.95,513.01 L141.39,513.35 L141.84,513.69 L142.29,514.03 L142.74,514.36 L143.19,514.70 L143.65,515.03 L144.11,515.36 L144.57,515.69 L145.03,516.02 L145.50,516.34 L145.97,516.67 L146.44,516.99 L146.91,517.30 L147.39,517.62 L147.87,517.94 L148.35,518.25 L148.83,518.56 L149.32,518.87 L149.81,519.18 L150.30,519.48 L150.80,519.79 L151.29,520.09 L151.79,520.39 L152.29,520.69 L152.80,520.98 L153.31,521.28 L153.82,521.57 L154.33,521.86 L154.85,522.15 L155.36,522.44 L155.88,522.73 L156.41,523.01 L156.94,523.29 L157.47,523.57 L158.00,523.85 L158.53,524.13 L159.07,524.41 L159.61,524.68 L160.16,524.95 L160.70,525.22 L161.25,525.49 L161.80,525.76 L162.36,526.03 L162.92,526.29 L163.48,526.55 L164.04,526.81 L164.61,527.07 L165.18,527.33 L165.75,527.59 L166.33,527.84 L166.91,528.10 L167.49,528.35 L168.08,528.60 L168.67,528.85 L169.26,529.09 L169.85,529.34 L170.45,529.58 L171.05,529.83 L171.66,530.07 L172.27,530.31 L172.88,530.55 L173.49,530.78 L174.11,531.02 L174.73,531.25 L175.36,531.49 L175.98,531.72 L176.61,531.95 L177.25,532.18 L177.89,532.40 L178.53,532.63 L179.17,532.85 L179.82,533.08 L180.47,533.30 L181.12,533.52 L181.78,533.74 L182.44,533.96 L183.11,534.17 L183.78,534.39 L184.45,534.60 L185.13,534.81 L185.81,535.03 L186.49,535.24 L187.18,535.44 L187.87,535.65 L188.56,535.86 L189.26,536.06 L189.96,536.27 L190.67,536.47 L191.37,536.67 L192.09,536.87 L192.80,537.07 L193.52,537.27 L194.25,537.46 L194.98,537.66 L195.71,537.85 L196.44,538.05 L197.18,538.24 L197.93,538.43 L198.67,538.62 L199.43,538.81 L200.18,538.99 L200.94,539.18 L201.71,539.36 L202.47,539.55 L203.24,539.73 L204.02,539.91 L204.80,540.09 L205.58,540.27 L206.37,540.45 L207.17,540.63 L207.96,540.80 L208.76,540.98 L209.57,541.15 L210.38,541.33 L211.19,541.50 L212.01,541.67 L212.83,541.84 L213.66,542.01 L214.49,542.17 L215.33,542.34 L216.17,542.51 L217.01,542.67 L217.86,542.84 L218.71,543.00 L219.57,543.16 L220.44,543.32 L221.30,543.48 L222.17,543.64 L223.05,543.80 L223.93,543.95 L224.82,544.11 L225.71,544.27 L226.60,544.42 L227.50,544.57 L228.41,544.73 L229.32,544.88 L230.23,545.03 L231.15,545.18 L232.08,545.33 L233.01,545.47 L233.94,545.62 L234.88,545.77 L235.82,545.91 L236.77,546.06 L237.73,546.20 L238.69,546.34 L239.65,546.48 L240.62,546.62 L241.60,546.76 L242.58,546.90 L243.56,547.04 L244.55,547.18 L245.55,547.31 L246.55,547.45 L247.55,547.58 L248.57,547.72 L249.58,547.85 L250.61,547.98 L251.63,548.12 L252.67,548.25 L253.71,548.38 L254.75,548.51 L255.80,548.63 L256.86,548.76 L257.92,548.89 L258.98,549.01 L260.06,549.14 L261.13,549.26 L262.22,549.39 L263.31,549.51 L264.40,549.63 L265.50,549.76 L266.61,549.88 L267.72,550.00 L268.84,550.12 L269.97,550.23 L271.10,550.35 L272.24,550.47 L273.38,550.59 L274.53,550.70 L275.68,550.82 L276.84,550.93 L278.01,551.05 L279.19,551.16 L280.37,551.27 L281.55,551.38 L282.74,551.49 L283.94,551.60 L285.15,551.71 L286.36,551.82 L287.58,551.93 L288.80,552.04 L290.03,552.15 L291.27,552.25 L292.52,552.36 L293.77,552.46 L295.02,552.57 L296.29,552.67 L297.56,552.77 L298.84,552.88 L300.12,552.98 L301.41,553.08 L302.71,553.18 L304.01,553.28 L305.33,553.38 L306.65,553.48 L307.97,553.58 L309.30,553.68 L310.65,553.77 L311.99,553.87 L313.35,553.96 L314.71,554.06 L316.08,554.15 L317.45,554.25 L318.84,554.34 L320.23,554.44 L321.63,554.53 L323.03,554.62 L324.44,554.71 L325.87,554.80 L327.29,554.89 L328.73,554.98 L330.17,555.07 L331.62,555.16 L333.08,555.25 L334.55,555.33 L336.02,555.42 L337.51,555.51 L339.00,555.59 L340.49,555.68 L342.00,555.76 L343.52,555.85 L345.04,555.93 L346.57,556.02 L348.11,556.10 L349.65,556.18 L351.21,556.26 L352.77,556.34 L354.34,556.43 L355.92,556.51 L357.51,556.59 L359.11,556.66 L360.71,556.74 L362.32,556.82 L363.95,556.90 L365.58,556.98 L367.22,557.05 L368.87,557.13 L370.52,557.21 L372.19,557.28 L373.86,557.36 L375.55,557.43 L377.24,557.51 L378.94,557.58 L380.65,557.65 L382.37,557.73 L384.10,557.80" fill="none" stroke="#000" stroke-width="1.65" stroke-linejoin="round"/>
<path d="M104.34,324.40 L104.52,325.49 L104.70,326.58 L104.89,327.66 L105.07,328.73 L105.26,329.81 L105.45,330.87 L105.63,331.93 L105.82,332.99 L106.01,334.05 L106.20,335.09 L106.39,336.14 L106.58,337.18 L106.77,338.21 L106.96,339.24 L107.16,340.26 L107.35,341.29 L107.55,342.30 L107.74,343.31 L107.94,344.32 L108.13,345.32 L108.33,346.32 L108.53,347.32 L108.73,348.31 L108.93,349.29 L109.13,350.27 L109.33,351.25 L109.53,352.22 L109.74,353.19 L109.94,354.15 L110.15,355.11 L110.35,356.07 L110.56,357.02 L110.76,357.96 L110.97,358.91 L111.18,359.84 L111.39,360.78 L111.60,361.71 L111.81,362.64 L112.02,363.56 L112.24,364.48 L112.45,365.39 L112.66,366.30 L112.88,367.20 L113.10,368.11 L113.31,369.00 L113.53,369.90 L113.75,370.79 L113.97,371.67 L114.19,372.56 L114.41,373.43 L114.63,374.31 L114.86,375.18 L115.08,376.04 L115.30,376.91 L115.53,377.77 L115.76,378.62 L115.98,379.47 L116.21,380.32 L116.44,381.16 L116.67,382.00 L116.90,382.84 L117.13,383.67 L117.37,384.50 L117.60,385.33 L117.83,386.15 L118.07,386.97 L118.31,387.78 L118.54,388.59 L118.78,389.40 L119.02,390.20 L119.26,391.00 L119.50,391.80 L119.74,392.59 L119.99,393.38 L120.23,394.17 L120.48,394.95 L120.72,395.73 L120.97,396.51 L121.22,397.28 L121.46,398.05 L121.71,398.81 L121.96,399.58 L122.22,400.34 L122.47,401.09 L122.72,401.84 L122.98,402.59 L123.23,403.34 L123.49,404.08 L123.75,404.82 L124.00,405.55 L124.26,406.29 L124.52,407.02 L124.79,407.74 L125.05,408.46 L125.31,409.18 L125.58,409.90 L125.84,410.61 L126.11,411.32 L126.38,412.03 L126.65,412.73 L126.91,413.43 L127.19,414.13 L127.46,414.83 L127.73,415.52 L128.00,416.21 L128.28,416.89 L128.56,417.57 L128.83,418.25 L129.11,418.93 L129.39,419.60 L129.67,420.27 L129.95,420.94 L130.24,421.60 L130.52,422.27 L130.80,422.92 L131.09,423.58 L131.38,424.23 L131.67,424.88 L131.95,425.53 L132.24,426.17 L132.54,426.81 L132.83,427.45 L133.12,428.09 L133.42,428.72 L133.71,429.35 L134.01,429.98 L134.31,430.60 L134.61,431.23 L134.91,431.84 L135.21,432.46 L135.52,433.07 L135.82,433.68 L136.13,434.29 L136.43,434.90 L136.74,435.50 L137.05,436.10 L137.36,436.70 L137.67,437.29 L137.98,437.88 L138.30,438.47 L138.61,439.06 L138.93,439.65 L139.25,440.23 L139.57,440.81 L139.89,441.38 L140.21,441.96 L140.53,442.53 L140.85,443.10 L141.18,443.66 L141.50,444.23 L141.83,444.79 L142.16,445.35 L142.49,445.90 L142.82,446.46 L143.16,447.01 L143.49,447.56 L143.83,448.11 L144.16,448.65 L144.50,449.19 L144.84,449.73 L145.18,450.27 L145.52,450.80 L145.87,451.34 L146.21,451.87 L146.56,452.39 L146.90,452.92 L147.25,453.44 L147.60,453.96 L147.95,454.48 L148.31,455.00 L148.66,455.51 L149.02,456.02 L149.37,456.53 L149.73,457.04 L150.09,457.54 L150.45,458.05 L150.81,458.55 L151.18,459.05 L151.54,459.54 L151.91,460.04 L152.28,460.53 L152.65,461.02 L153.02,461.50 L153.39,461.99 L153.77,462.47 L154.14,462.95 L154.52,463.43 L154.90,463.91 L155.28,464.38 L155.66,464.85 L156.04,465.32 L156.42,465.79 L156.81,466.26 L157.20,466.72 L157.59,467.18 L157.98,467.64 L158.37,468.10 L158.76,468.56 L159.16,469.01 L159.55,469.46 L159.95,469.91 L160.35,470.36 L160.75,470.81 L161.15,471.25 L161.56,471.69 L161.96,472.13 L162.37,472.57 L162.78,473.01 L163.19,473.44 L163.60,473.87 L164.02,474.30 L164.43,474.73 L164.85,475.16 L165.27,475.58 L165.69,476.01 L166.11,476.43 L166.53,476.85 L166.96,477.26 L167.39,477.68 L167.81,478.09 L168.24,478.50 L168.68,478.91 L169.11,479.32 L169.54,479.73 L169.98,480.13 L170.42,480.54 L170.86,480.94 L171.30,481.34 L171.75,481.73 L172.19,482.13 L172.64,482.52 L173.09,482.91 L173.54,483.30 L173.99,483.69 L174.45,484.08 L174.90,484.47 L175.36,484.85 L175.82,485.23 L176.28,485.61 L176.74,485.99 L177.21,486.37 L177.67,486.74 L178.14,487.11 L178.61,487.49 L179.09,487.86 L179.56,488.22 L180.04,488.59 L180.51,488.96 L180.99,489.32 L181.47,489.68 L181.96,490.04 L182.44,490.40 L182.93,490.76 L183.42,491.11 L183.91,491.47 L184.40,491.82 L184.90,492.17 L185.39,492.52 L185.89,492.87 L186.39,493.21 L186.90,493.56 L187.40,493.90 L187.91,494.24 L188.42,494.58 L188.93,494.92 L189.44,495.26 L189.95,495.60 L190.47,495.93 L190.99,496.26 L191.51,496.59 L192.03,496.92 L192.56,497.25 L193.08,497.58 L193.61,497.90 L194.14,498.23 L194.67,498.55 L195.21,498.87 L195.75,499.19 L196.28,499.51 L196.83,499.83 L197.37,500.14 L197.91,500.46 L198.46,500.77 L199.01,501.08 L199.56,501.39 L200.12,501.70 L200.67,502.00 L201.23,502.31 L201.79,502.62 L202.35,502.92 L202.92,503.22 L203.48,503.52 L204.05,503.82 L204.63,504.12 L205.20,504.41 L205.77,504.71 L206.35,505.00 L206.93,505.29 L207.52,505.59 L208.10,505.88 L208.69,506.16 L209.28,506.45 L209.87,506.74 L210.46,507.02 L211.06,507.31 L211.66,507.59 L212.26,507.87 L212.86,508.15 L213.47,508.43 L214.08,508.70 L214.69,508.98 L215.30,509.26 L215.91,509.53 L216.53,509.80 L217.15,510.07 L217.77,510.34 L218.40,510.61 L219.03,510.88 L219.65,511.15 L220.29,511.41 L220.92,511.67 L221.56,511.94 L222.20,512.20 L222.84,512.46 L223.48,512.72 L224.13,512.98 L224.78,513.23 L225.43,513.49 L226.09,513.75 L226.75,514.00 L227.40,514.25 L228.07,514.50 L228.73,514.75 L229.40,515.00 L230.07,515.25 L230.74,515.50 L231.42,515.74 L232.10,515.99 L232.78,516.23 L233.46,516.47 L234.15,516.72 L234.83,516.96 L235.52,517.20 L236.22,517.43 L236.92,517.67 L237.61,517.91 L238.32,518.14 L239.02,518.38 L239.73,518.61 L240.44,518.84 L241.15,519.07 L241.87,519.30 L242.59,519.53 L243.31,519.76 L244.03,519.99 L244.76,520.21 L245.49,520.44 L246.22,520.66 L246.96,520.89 L247.70,521.11 L248.44,521.33 L249.18,521.55 L249.93,521.77 L250.68,521.99 L251.43,522.20 L252.19,522.42 L252.95,522.63 L253.71,522.85 L254.47,523.06 L255.24,523.27 L256.01,523.49 L256.79,523.70 L257.56,523.90 L258.34,524.11 L259.13,524.32 L259.91,524.53 L260.70,524.73 L261.49,524.94 L262.29,525.14 L263.09,525.35 L263.89,525.55 L264.69,525.75 L265.50,525.95 L266.31,526.15 L267.12,526.35 L267.94,526.54 L268.76,526.74 L269.58,526.94 L270.41,527.13 L271.24,527.33 L272.07,527.52 L272.91,527.71 L273.75,527.90 L274.59,528.10 L275.44,528.29 L276.29,528.47 L277.14,528.66 L278.00,528.85 L278.86,529.04 L279.72,529.22 L280.58,529.41 L281.45,529.59 L282.33,529.77 L283.20,529.96 L284.08,530.14 L284.97,530.32 L285.85,530.50 L286.74,530.68 L287.64,530.86 L288.53,531.03 L289.43,531.21 L290.34,531.39 L291.24,531.56 L292.16,531.74 L293.07,531.91 L293.99,532.08 L294.91,532.26 L295.84,532.43 L296.76,532.60 L297.70,532.77 L298.63,532.94 L299.57,533.10 L300.52,533.27 L301.46,533.44 L302.41,533.61 L303.37,533.77 L304.33,533.94 L305.29,534.10 L306.25,534.26 L307.22,534.42 L308.20,534.59 L309.17,534.75 L310.16,534.91 L311.14,535.07 L312.13,535.23 L313.12,535.38 L314.12,535.54 L315.12,535.70 L316.12,535.85 L317.13,536.01 L318.14,536.16 L319.16,536.32 L320.18,536.47 L321.20,536.62 L322.23,536.78 L323.26,536.93 L324.30,537.08 L325.34,537.23 L326.38,537.38 L327.43,537.53 L328.48,537.67 L329.53,537.82 L330.59,537.97 L331.66,538.11 L332.73,538.26 L333.80,538.40 L334.88,538.55 L335.96,538.69 L337.04,538.83 L338.13,538.98 L339.23,539.12 L340.32,539.26 L341.43,539.40 L342.53,539.54 L343.64,539.68 L344.76,539.81 L345.88,539.95 L347.00,540.09 L348.13,540.23 L349.26,540.36 L350.40,540.50 L351.54,540.63 L352.69,540.76 L353.84,540.90 L354.99,541.03 L356.15,541.16 L357.32,541.29 L358.48,541.43 L359.66,541.56 L360.83,541.69 L362.02,541.82 L363.20,541.94 L364.39,542.07 L365.59,542.20 L366.79,542.33 L368.00,542.45 L369.21,542.58 L370.42,542.70 L371.64,542.83 L372.87,542.95 L374.09,543.08 L375.33,543.20 L376.57,543.32 L377.81,543.44 L379.06,543.57 L380.31,543.69 L381.57,543.81 L382.83,543.93 L384.10,544.05" fill="none" stroke="#000" stroke-width="1.65" stroke-linejoin="round"/>
<path d="M134.66,324.40 L134.88,325.22 L135.11,326.03 L135.33,326.84 L135.56,327.65 L135.78,328.46 L136.01,329.27 L136.24,330.07 L136.46,330.87 L136.69,331.66 L136.92,332.46 L137.15,333.25 L137.38,334.04 L137.62,334.82 L137.85,335.61 L138.08,336.39 L138.31,337.16 L138.55,337.94 L138.78,338.71 L139.02,339.48 L139.25,340.25 L139.49,341.02 L139.73,341.78 L139.97,342.54 L140.21,343.30 L140.45,344.05 L140.69,344.81 L140.93,345.56 L141.17,346.31 L141.41,347.05 L141.65,347.79 L141.90,348.54 L142.14,349.27 L142.39,350.01 L142.63,350.74 L142.88,351.47 L143.13,352.20 L143.38,352.93 L143.62,353.65 L143.87,354.37 L144.12,355.09 L144.38,355.81 L144.63,356.52 L144.88,357.24 L145.13,357.95 L145.39,358.65 L145.64,359.36 L145.90,360.06 L146.15,360.76 L146.41,361.46 L146.67,362.16 L146.93,362.85 L147.18,363.54 L147.44,364.23 L147.70,364.92 L147.97,365.60 L148.23,366.28 L148.49,366.96 L148.75,367.64 L149.02,368.32 L149.28,368.99 L149.55,369.66 L149.82,370.33 L150.08,370.99 L150.35,371.66 L150.62,372.32 L150.89,372.98 L151.16,373.64 L151.43,374.30 L151.70,374.95 L151.98,375.60 L152.25,376.25 L152.53,376.90 L152.80,377.54 L153.08,378.18 L153.35,378.83 L153.63,379.46 L153.91,380.10 L154.19,380.74 L154.47,381.37 L154.75,382.00 L155.03,382.63 L155.31,383.25 L155.60,383.88 L155.88,384.50 L156.17,385.12 L156.45,385.74 L156.74,386.35 L157.03,386.97 L157.32,387.58 L157.60,388.19 L157.89,388.80 L158.19,389.40 L158.48,390.01 L158.77,390.61 L159.06,391.21 L159.36,391.81 L159.65,392.40 L159.95,393.00 L160.24,393.59 L160.54,394.18 L160.84,394.77 L161.14,395.35 L161.44,395.94 L161.74,396.52 L162.04,397.10 L162.35,397.68 L162.65,398.25 L162.95,398.83 L163.26,399.40 L163.57,399.97 L163.87,400.54 L164.18,401.11 L164.49,401.68 L164.80,402.24 L165.11,402.80 L165.42,403.36 L165.74,403.92 L166.05,404.47 L166.36,405.03 L166.68,405.58 L166.99,406.13 L167.31,406.68 L167.63,407.23 L167.95,407.77 L168.27,408.32 L168.59,408.86 L168.91,409.40 L169.23,409.94 L169.56,410.47 L169.88,411.01 L170.21,411.54 L170.53,412.07 L170.86,412.60 L171.19,413.13 L171.52,413.65 L171.85,414.18 L172.18,414.70 L172.51,415.22 L172.85,415.74 L173.18,416.26 L173.51,416.77 L173.85,417.29 L174.19,417.80 L174.53,418.31 L174.86,418.82 L175.20,419.32 L175.55,419.83 L175.89,420.33 L176.23,420.84 L176.57,421.34 L176.92,421.83 L177.26,422.33 L177.61,422.83 L177.96,423.32 L178.31,423.81 L178.66,424.30 L179.01,424.79 L179.36,425.28 L179.71,425.77 L180.07,426.25 L180.42,426.73 L180.78,427.21 L181.14,427.69 L181.49,428.17 L181.85,428.65 L182.21,429.12 L182.57,429.60 L182.94,430.07 L183.30,430.54 L183.66,431.01 L184.03,431.47 L184.40,431.94 L184.76,432.40 L185.13,432.86 L185.50,433.33 L185.87,433.78 L186.24,434.24 L186.62,434.70 L186.99,435.15 L187.37,435.61 L187.74,436.06 L188.12,436.51 L188.50,436.96 L188.88,437.41 L189.26,437.85 L189.64,438.30 L190.02,438.74 L190.41,439.18 L190.79,439.62 L191.18,440.06 L191.56,440.50 L191.95,440.93 L192.34,441.37 L192.73,441.80 L193.12,442.23 L193.52,442.66 L193.91,443.09 L194.30,443.52 L194.70,443.94 L195.10,444.37 L195.50,444.79 L195.90,445.21 L196.30,445.63 L196.70,446.05 L197.10,446.47 L197.51,446.88 L197.91,447.30 L198.32,447.71 L198.73,448.12 L199.13,448.53 L199.55,448.94 L199.96,449.35 L200.37,449.76 L200.78,450.16 L201.20,450.57 L201.61,450.97 L202.03,451.37 L202.45,451.77 L202.87,452.17 L203.29,452.56 L203.71,452.96 L204.14,453.35 L204.56,453.75 L204.99,454.14 L205.41,454.53 L205.84,454.92 L206.27,455.31 L206.70,455.70 L207.13,456.08 L207.57,456.47 L208.00,456.85 L208.44,457.23 L208.87,457.61 L209.31,457.99 L209.75,458.37 L210.19,458.74 L210.64,459.12 L211.08,459.49 L211.52,459.87 L211.97,460.24 L212.42,460.61 L212.87,460.98 L213.32,461.35 L213.77,461.71 L214.22,462.08 L214.67,462.44 L215.13,462.81 L215.58,463.17 L216.04,463.53 L216.50,463.89 L216.96,464.25 L217.42,464.61 L217.89,464.96 L218.35,465.32 L218.82,465.67 L219.28,466.02 L219.75,466.38 L220.22,466.73 L220.69,467.08 L221.17,467.42 L221.64,467.77 L222.11,468.12 L222.59,468.46 L223.07,468.80 L223.55,469.15 L224.03,469.49 L224.51,469.83 L225.00,470.17 L225.48,470.51 L225.97,470.84 L226.45,471.18 L226.94,471.51 L227.43,471.85 L227.93,472.18 L228.42,472.51 L228.91,472.84 L229.41,473.17 L229.91,473.50 L230.41,473.82 L230.91,474.15 L231.41,474.47 L231.91,474.80 L232.42,475.12 L232.93,475.44 L233.43,475.76 L233.94,476.08 L234.45,476.40 L234.97,476.72 L235.48,477.03 L236.00,477.35 L236.51,477.66 L237.03,477.98 L237.55,478.29 L238.07,478.60 L238.59,478.91 L239.12,479.22 L239.64,479.53 L240.17,479.83 L240.70,480.14 L241.23,480.44 L241.76,480.75 L242.30,481.05 L242.83,481.35 L243.37,481.65 L243.91,481.95 L244.45,482.25 L244.99,482.55 L245.53,482.85 L246.07,483.14 L246.62,483.44 L247.17,483.73 L247.72,484.02 L248.27,484.32 L248.82,484.61 L249.37,484.90 L249.93,485.19 L250.49,485.48 L251.05,485.76 L251.61,486.05 L252.17,486.33 L252.73,486.62 L253.30,486.90 L253.86,487.19 L254.43,487.47 L255.00,487.75 L255.57,488.03 L256.15,488.31 L256.72,488.58 L257.30,488.86 L257.88,489.14 L258.46,489.41 L259.04,489.69 L259.62,489.96 L260.21,490.23 L260.80,490.50 L261.38,490.77 L261.97,491.04 L262.57,491.31 L263.16,491.58 L263.76,491.85 L264.35,492.11 L264.95,492.38 L265.55,492.64 L266.15,492.91 L266.76,493.17 L267.36,493.43 L267.97,493.69 L268.58,493.95 L269.19,494.21 L269.81,494.47 L270.42,494.73 L271.04,494.99 L271.65,495.24 L272.27,495.50 L272.90,495.75 L273.52,496.00 L274.15,496.26 L274.77,496.51 L275.40,496.76 L276.03,497.01 L276.67,497.26 L277.30,497.51 L277.94,497.75 L278.57,498.00 L279.21,498.25 L279.86,498.49 L280.50,498.74 L281.15,498.98 L281.79,499.22 L282.44,499.46 L283.09,499.70 L283.75,499.94 L284.40,500.18 L285.06,500.42 L285.72,500.66 L286.38,500.90 L287.04,501.13 L287.71,501.37 L288.37,501.60 L289.04,501.84 L289.71,502.07 L290.38,502.30 L291.06,502.54 L291.73,502.77 L292.41,503.00 L293.09,503.23 L293.77,503.45 L294.46,503.68 L295.14,503.91 L295.83,504.14 L296.52,504.36 L297.21,504.59 L297.91,504.81 L298.60,505.03 L299.30,505.26 L300.00,505.48 L300.70,505.70 L301.41,505.92 L302.11,506.14 L302.82,506.36 L303.53,506.58 L304.24,506.79 L304.96,507.01 L305.67,507.23 L306.39,507.44 L307.11,507.66 L307.84,507.87 L308.56,508.08 L309.29,508.30 L310.02,508.51 L310.75,508.72 L311.48,508.93 L312.22,509.14 L312.95,509.35 L313.69,509.56 L314.43,509.76 L315.18,509.97 L315.92,510.18 L316.67,510.38 L317.42,510.59 L318.17,510.79 L318.93,510.99 L319.69,511.20 L320.44,511.40 L321.21,511.60 L321.97,511.80 L322.74,512.00 L323.50,512.20 L324.27,512.40 L325.05,512.60 L325.82,512.80 L326.60,512.99 L327.38,513.19 L328.16,513.38 L328.94,513.58 L329.73,513.77 L330.51,513.97 L331.30,514.16 L332.10,514.35 L332.89,514.54 L333.69,514.73 L334.49,514.93 L335.29,515.11 L336.09,515.30 L336.90,515.49 L337.71,515.68 L338.52,515.87 L339.33,516.05 L340.15,516.24 L340.97,516.43 L341.79,516.61 L342.61,516.79 L343.44,516.98 L344.27,517.16 L345.10,517.34 L345.93,517.53 L346.76,517.71 L347.60,517.89 L348.44,518.07 L349.28,518.25 L350.13,518.42 L350.97,518.60 L351.82,518.78 L352.68,518.96 L353.53,519.13 L354.39,519.31 L355.25,519.48 L356.11,519.66 L356.97,519.83 L357.84,520.01 L358.71,520.18 L359.58,520.35 L360.45,520.52 L361.33,520.69 L362.21,520.87 L363.09,521.04 L363.98,521.20 L364.87,521.37 L365.75,521.54 L366.65,521.71 L367.54,521.88 L368.44,522.04 L369.34,522.21 L370.24,522.38 L371.15,522.54 L372.06,522.70 L372.97,522.87 L373.88,523.03 L374.79,523.19 L375.71,523.36 L376.63,523.52 L377.56,523.68 L378.48,523.84 L379.41,524.00 L380.35,524.16 L381.28,524.32 L382.22,524.48 L383.16,524.64 L384.10,524.79" fill="none" stroke="#000" stroke-width="1.65" stroke-linejoin="round"/>
<rect x="455.6" y="324.4" width="326.60" height="244.70" fill="none" stroke="#555" stroke-width="1"/>
<path d="M455.60,569.1V565.80M455.60,324.4V327.70" stroke="#555"/>
<path d="M537.25,569.1V565.80M537.25,324.4V327.70" stroke="#555"/>
<path d="M618.90,569.1V565.80M618.90,324.4V327.70" stroke="#555"/>
<path d="M700.55,569.1V565.80M700.55,324.4V327.70" stroke="#555"/>
<path d="M782.20,569.1V565.80M782.20,324.4V327.70" stroke="#555"/>
<path d="M455.6,569.10H458.90M782.2,569.10H778.90" stroke="#555"/>
<path d="M455.6,507.93H458.90M782.2,507.93H778.90" stroke="#555"/>
<path d="M455.6,446.75H458.90M782.2,446.75H778.90" stroke="#555"/>
<path d="M455.6,385.57H458.90M782.2,385.57H778.90" stroke="#555"/>
<path d="M455.6,324.40H458.90M782.2,324.40H778.90" stroke="#555"/>
<path d="M464.06,324.40 L464.12,326.44 L464.18,328.46 L464.24,330.47 L464.31,332.46 L464.37,334.43 L464.44,336.39 L464.50,338.33 L464.57,340.26 L464.63,342.17 L464.70,344.06 L464.77,345.94 L464.83,347.80 L464.90,349.64 L464.97,351.47 L465.04,353.29 L465.11,355.09 L465.18,356.87 L465.25,358.64 L465.32,360.40 L465.39,362.14 L465.46,363.87 L465.53,365.58 L465.61,367.28 L465.68,368.96 L465.76,370.63 L465.83,372.29 L465.91,373.93 L465.98,375.56 L466.06,377.17 L466.13,378.77 L466.21,380.36 L466.29,381.94 L466.37,383.50 L466.45,385.05 L466.53,386.58 L466.61,388.11 L466.69,389.62 L466.77,391.12 L466.85,392.60 L466.93,394.07 L467.02,395.54 L467.10,396.98 L467.19,398.42 L467.27,399.85 L467.36,401.26 L467.44,402.66 L467.53,404.05 L467.62,405.43 L467.71,406.79 L467.80,408.15 L467.89,409.49 L467.98,410.82 L468.07,412.15 L468.16,413.46 L468.25,414.76 L468.34,416.04 L468.44,417.32 L468.53,418.59 L468.63,419.85 L468.72,421.09 L468.82,422.33 L468.92,423.56 L469.01,424.77 L469.11,425.98 L469.21,427.17 L469.31,428.36 L469.41,429.53 L469.51,430.70 L469.62,431.85 L469.72,433.00 L469.82,434.14 L469.93,435.27 L470.03,436.38 L470.14,437.49 L470.25,438.59 L470.35,439.68 L470.46,440.76 L470.57,441.84 L470.68,442.90 L470.79,443.95 L470.90,445.00 L471.02,446.04 L471.13,447.07 L471.24,448.09 L471.36,449.10 L471.47,450.10 L471.59,451.09 L471.71,452.08 L471.83,453.06 L471.95,454.03 L472.07,454.99 L472.19,455.94 L472.31,456.89 L472.43,457.83 L472.56,458.76 L472.68,459.68 L472.81,460.60 L472.93,461.50 L473.06,462.40 L473.19,463.30 L473.32,464.18 L473.45,465.06 L473.58,465.93 L473.71,466.79 L473.84,467.65 L473.98,468.50 L474.11,469.34 L474.25,470.17 L474.39,471.00 L474.52,471.82 L474.66,472.63 L474.80,473.44 L474.94,474.24 L475.09,475.04 L475.23,475.82 L475.37,476.60 L475.52,477.38 L475.67,478.14 L475.81,478.91 L475.96,479.66 L476.11,480.41 L476.26,481.15 L476.41,481.89 L476.57,482.62 L476.72,483.34 L476.88,484.06 L477.03,484.77 L477.19,485.48 L477.35,486.18 L477.51,486.87 L477.67,487.56 L477.83,488.24 L477.99,488.92 L478.16,489.59 L478.32,490.26 L478.49,490.92 L478.66,491.57 L478.83,492.22 L479.00,492.87 L479.17,493.51 L479.35,494.14 L479.52,494.77 L479.70,495.39 L479.87,496.01 L480.05,496.62 L480.23,497.23 L480.41,497.83 L480.59,498.43 L480.78,499.02 L480.96,499.61 L481.15,500.19 L481.34,500.77 L481.53,501.34 L481.72,501.91 L481.91,502.47 L482.10,503.03 L482.30,503.58 L482.49,504.13 L482.69,504.68 L482.89,505.22 L483.09,505.76 L483.29,506.29 L483.50,506.81 L483.70,507.34 L483.91,507.85 L484.12,508.37 L484.33,508.88 L484.54,509.38 L484.75,509.88 L484.96,510.38 L485.18,510.87 L485.40,511.36 L485.62,511.85 L485.84,512.33 L486.06,512.80 L486.28,513.28 L486.51,513.75 L486.73,514.21 L486.96,514.67 L487.19,515.13 L487.43,515.58 L487.66,516.03 L487.90,516.48 L488.13,516.92 L488.37,517.36 L488.61,517.79 L488.86,518.22 L489.10,518.65 L489.35,519.08 L489.59,519.50 L489.84,519.91 L490.10,520.33 L490.35,520.74 L490.60,521.14 L490.86,521.55 L491.12,521.95 L491.38,522.34 L491.64,522.74 L491.91,523.13 L492.18,523.51 L492.45,523.90 L492.72,524.28 L492.99,524.65 L493.26,525.03 L493.54,525.40 L493.82,525.77 L494.10,526.13 L494.38,526.49 L494.67,526.85 L494.96,527.21 L495.24,527.56 L495.54,527.91 L495.83,528.26 L496.12,528.60 L496.42,528.94 L496.72,529.28 L497.02,529.61 L497.33,529.95 L497.64,530.28 L497.94,530.60 L498.26,530.93 L498.57,531.25 L498.89,531.57 L499.20,531.89 L499.52,532.20 L499.85,532.51 L500.17,532.82 L500.50,533.13 L500.83,533.43 L501.16,533.73 L501.50,534.03 L501.83,534.32 L502.17,534.62 L502.52,534.91 L502.86,535.20 L503.21,535.48 L503.56,535.77 L503.91,536.05 L504.27,536.33 L504.62,536.60 L504.98,536.88 L505.35,537.15 L505.71,537.42 L506.08,537.69 L506.45,537.95 L506.82,538.22 L507.20,538.48 L507.58,538.74 L507.96,538.99 L508.35,539.25 L508.73,539.50 L509.13,539.75 L509.52,540.00 L509.92,540.24 L510.31,540.49 L510.72,540.73 L511.12,540.97 L511.53,541.21 L511.94,541.44 L512.35,541.68 L512.77,541.91 L513.19,542.14 L513.61,542.37 L514.04,542.60 L514.47,542.82 L514.90,543.04 L515.34,543.26 L515.78,543.48 L516.22,543.70 L516.67,543.91 L517.11,544.13 L517.57,544.34 L518.02,544.55 L518.48,544.76 L518.94,544.96 L519.41,545.17 L519.88,545.37 L520.35,545.57 L520.83,545.77 L521.31,545.97 L521.79,546.17 L522.27,546.36 L522.76,546.55 L523.26,546.75 L523.76,546.94 L524.26,547.12 L524.76,547.31 L525.27,547.50 L525.78,547.68 L526.30,547.86 L526.82,548.04 L527.34,548.22 L527.87,548.40 L528.40,548.57 L528.93,548.75 L529.47,548.92 L530.01,549.09 L530.56,549.26 L531.11,549.43 L531.67,549.60 L532.23,549.77 L532.79,549.93 L533.36,550.09 L533.93,550.26 L534.50,550.42 L535.08,550.58 L535.67,550.73 L536.26,550.89 L536.85,551.05 L537.45,551.20 L538.05,551.35 L538.65,551.50 L539.26,551.65 L539.88,551.80 L540.50,551.95 L541.12,552.10 L541.75,552.24 L542.38,552.39 L543.02,552.53 L543.66,552.67 L544.31,552.81 L544.96,552.95 L545.62,553.09 L546.28,553.23 L546.95,553.36 L547.62,553.50 L548.30,553.63 L548.98,553.76 L549.66,553.89 L550.35,554.02 L551.05,554.15 L551.75,554.28 L552.46,554.41 L553.17,554.53 L553.89,554.66 L554.61,554.78 L555.34,554.90 L556.07,555.03 L556.81,555.15 L557.55,555.27 L558.30,555.39 L559.06,555.50 L559.82,555.62 L560.58,555.74 L561.35,555.85 L562.13,555.96 L562.91,556.08 L563.70,556.19 L564.50,556.30 L565.30,556.41 L566.10,556.52 L566.92,556.63 L567.73,556.73 L568.56,556.84 L569.39,556.95 L570.22,557.05 L571.07,557.16 L571.92,557.26 L572.77,557.36 L573.63,557.46 L574.50,557.56 L575.37,557.66 L576.25,557.76 L577.14,557.86 L578.03,557.95 L578.93,558.05 L579.84,558.15 L580.75,558.24 L581.67,558.33 L582.60,558.43 L583.53,558.52 L584.47,558.61 L585.42,558.70 L586.37,558.79 L587.33,558.88 L588.30,558.97 L589.28,559.06 L590.26,559.14 L591.25,559.23 L592.25,559.32 L593.25,559.40 L594.26,559.49 L595.28,559.57 L596.31,559.65 L597.34,559.73 L598.38,559.82 L599.43,559.90 L600.49,559.98 L601.55,560.06 L602.63,560.13 L603.71,560.21 L604.80,560.29 L605.89,560.37 L607.00,560.44 L608.11,560.52 L609.23,560.59 L610.36,560.67 L611.50,560.74 L612.64,560.81 L613.80,560.89 L614.96,560.96 L616.13,561.03 L617.31,561.10 L618.50,561.17 L619.70,561.24 L620.90,561.31 L622.12,561.37 L623.34,561.44 L624.57,561.51 L625.81,561.58 L627.07,561.64 L628.33,561.71 L629.60,561.77 L630.87,561.84 L632.16,561.90 L633.46,561.96 L634.77,562.03 L636.08,562.09 L637.41,562.15 L638.75,562.21 L640.09,562.27 L641.45,562.33 L642.81,562.39 L644.19,562.45 L645.58,562.51 L646.97,562.57 L648.38,562.62 L649.79,562.68 L651.22,562.74 L652.66,562.79 L654.11,562.85 L655.57,562.90 L657.04,562.96 L658.52,563.01 L660.01,563.07 L661.51,563.12 L663.02,563.17 L664.55,563.23 L666.08,563.28 L667.63,563.33 L669.19,563.38 L670.76,563.43 L672.34,563.48 L673.93,563.53 L675.54,563.58 L677.15,563.63 L678.78,563.68 L680.42,563.73 L682.07,563.78 L683.74,563.82 L685.41,563.87 L687.10,563.92 L688.80,563.96 L690.52,564.01 L692.24,564.05 L693.98,564.10 L695.74,564.14 L697.50,564.19 L699.28,564.23 L701.07,564.28 L702.87,564.32 L704.69,564.36 L706.52,564.40 L708.36,564.45 L710.22,564.49 L712.09,564.53 L713.98,564.57 L715.88,564.61 L717.79,564.65 L719.72,564.69 L721.66,564.73 L723.61,564.77 L725.58,564.81 L727.57,564.85 L729.57,564.89 L731.58,564.92 L733.61,564.96 L735.65,565.00 L737.71,565.04 L739.78,565.07 L741.87,565.11 L743.97,565.15 L746.09,565.18 L748.23,565.22 L750.38,565.25 L752.55,565.29 L754.73,565.32 L756.93,565.36 L759.14,565.39 L761.37,565.42 L763.62,565.46 L765.88,565.49 L768.16,565.52 L770.46,565.56 L772.77,565.59 L775.10,565.62 L777.45,565.65 L779.82,565.68 L782.20,565.72" fill="none" stroke="#000" stroke-width="1.65" stroke-linejoin="round"/>
<path d="M483.94,324.40 L484.08,325.78 L484.21,327.14 L484.36,328.50 L484.50,329.86 L484.64,331.20 L484.78,332.54 L484.92,333.87 L485.07,335.19 L485.21,336.51 L485.36,337.82 L485.50,339.12 L485.65,340.41 L485.80,341.70 L485.95,342.98 L486.10,344.25 L486.25,345.51 L486.40,346.77 L486.55,348.02 L486.70,349.26 L486.85,350.50 L487.01,351.73 L487.16,352.95 L487.32,354.17 L487.47,355.38 L487.63,356.58 L487.79,357.78 L487.94,358.97 L488.10,360.15 L488.26,361.33 L488.42,362.50 L488.58,363.66 L488.75,364.82 L488.91,365.97 L489.07,367.11 L489.24,368.25 L489.40,369.38 L489.57,370.50 L489.73,371.62 L489.90,372.73 L490.07,373.84 L490.24,374.94 L490.41,376.03 L490.58,377.12 L490.75,378.20 L490.92,379.28 L491.10,380.35 L491.27,381.41 L491.45,382.47 L491.62,383.52 L491.80,384.57 L491.98,385.61 L492.16,386.64 L492.34,387.67 L492.52,388.69 L492.70,389.71 L492.88,390.72 L493.06,391.72 L493.25,392.72 L493.43,393.72 L493.62,394.71 L493.81,395.69 L493.99,396.67 L494.18,397.64 L494.37,398.61 L494.56,399.57 L494.75,400.53 L494.94,401.48 L495.14,402.42 L495.33,403.36 L495.53,404.30 L495.72,405.23 L495.92,406.15 L496.12,407.07 L496.32,407.99 L496.52,408.89 L496.72,409.80 L496.92,410.70 L497.12,411.59 L497.33,412.48 L497.53,413.37 L497.74,414.24 L497.94,415.12 L498.15,415.99 L498.36,416.85 L498.57,417.71 L498.78,418.57 L499.00,419.42 L499.21,420.26 L499.42,421.10 L499.64,421.94 L499.85,422.77 L500.07,423.60 L500.29,424.42 L500.51,425.24 L500.73,426.05 L500.95,426.86 L501.17,427.66 L501.40,428.46 L501.62,429.26 L501.85,430.05 L502.08,430.83 L502.30,431.61 L502.53,432.39 L502.76,433.16 L503.00,433.93 L503.23,434.70 L503.46,435.46 L503.70,436.21 L503.93,436.96 L504.17,437.71 L504.41,438.46 L504.65,439.19 L504.89,439.93 L505.13,440.66 L505.38,441.39 L505.62,442.11 L505.87,442.83 L506.11,443.54 L506.36,444.25 L506.61,444.96 L506.86,445.66 L507.11,446.36 L507.36,447.06 L507.62,447.75 L507.87,448.44 L508.13,449.12 L508.39,449.80 L508.65,450.47 L508.91,451.15 L509.17,451.81 L509.43,452.48 L509.70,453.14 L509.96,453.80 L510.23,454.45 L510.50,455.10 L510.77,455.75 L511.04,456.39 L511.31,457.03 L511.59,457.66 L511.86,458.29 L512.14,458.92 L512.41,459.55 L512.69,460.17 L512.97,460.79 L513.26,461.40 L513.54,462.01 L513.82,462.62 L514.11,463.22 L514.40,463.82 L514.69,464.42 L514.98,465.02 L515.27,465.61 L515.56,466.19 L515.85,466.78 L516.15,467.36 L516.45,467.94 L516.75,468.51 L517.05,469.08 L517.35,469.65 L517.65,470.22 L517.96,470.78 L518.26,471.34 L518.57,471.89 L518.88,472.44 L519.19,472.99 L519.50,473.54 L519.82,474.08 L520.13,474.62 L520.45,475.16 L520.77,475.69 L521.09,476.22 L521.41,476.75 L521.73,477.28 L522.06,477.80 L522.38,478.32 L522.71,478.84 L523.04,479.35 L523.37,479.86 L523.71,480.37 L524.04,480.87 L524.38,481.37 L524.71,481.87 L525.05,482.37 L525.39,482.86 L525.74,483.36 L526.08,483.84 L526.43,484.33 L526.78,484.81 L527.12,485.29 L527.48,485.77 L527.83,486.24 L528.18,486.72 L528.54,487.19 L528.90,487.65 L529.26,488.12 L529.62,488.58 L529.98,489.04 L530.35,489.49 L530.72,489.95 L531.08,490.40 L531.46,490.85 L531.83,491.29 L532.20,491.74 L532.58,492.18 L532.96,492.62 L533.34,493.06 L533.72,493.49 L534.10,493.92 L534.49,494.35 L534.87,494.78 L535.26,495.20 L535.66,495.62 L536.05,496.04 L536.44,496.46 L536.84,496.88 L537.24,497.29 L537.64,497.70 L538.04,498.11 L538.45,498.51 L538.86,498.92 L539.26,499.32 L539.68,499.72 L540.09,500.11 L540.50,500.51 L540.92,500.90 L541.34,501.29 L541.76,501.68 L542.18,502.06 L542.61,502.45 L543.04,502.83 L543.47,503.21 L543.90,503.59 L544.33,503.96 L544.77,504.33 L545.20,504.70 L545.64,505.07 L546.09,505.44 L546.53,505.80 L546.98,506.17 L547.43,506.53 L547.88,506.89 L548.33,507.24 L548.79,507.60 L549.24,507.95 L549.70,508.30 L550.16,508.65 L550.63,509.00 L551.10,509.34 L551.57,509.68 L552.04,510.03 L552.51,510.36 L552.99,510.70 L553.46,511.04 L553.94,511.37 L554.43,511.70 L554.91,512.03 L555.40,512.36 L555.89,512.69 L556.38,513.01 L556.88,513.33 L557.38,513.65 L557.88,513.97 L558.38,514.29 L558.88,514.60 L559.39,514.92 L559.90,515.23 L560.41,515.54 L560.93,515.85 L561.44,516.15 L561.96,516.46 L562.49,516.76 L563.01,517.06 L563.54,517.36 L564.07,517.66 L564.60,517.96 L565.14,518.25 L565.67,518.54 L566.21,518.84 L566.76,519.13 L567.30,519.41 L567.85,519.70 L568.40,519.99 L568.96,520.27 L569.51,520.55 L570.07,520.83 L570.64,521.11 L571.20,521.39 L571.77,521.66 L572.34,521.94 L572.91,522.21 L573.49,522.48 L574.07,522.75 L574.65,523.02 L575.23,523.28 L575.82,523.55 L576.41,523.81 L577.01,524.07 L577.60,524.33 L578.20,524.59 L578.80,524.85 L579.41,525.11 L580.02,525.36 L580.63,525.61 L581.24,525.86 L581.86,526.12 L582.48,526.36 L583.10,526.61 L583.73,526.86 L584.36,527.10 L584.99,527.35 L585.62,527.59 L586.26,527.83 L586.90,528.07 L587.55,528.31 L588.20,528.54 L588.85,528.78 L589.50,529.01 L590.16,529.25 L590.82,529.48 L591.49,529.71 L592.15,529.94 L592.82,530.16 L593.50,530.39 L594.17,530.61 L594.86,530.84 L595.54,531.06 L596.23,531.28 L596.92,531.50 L597.61,531.72 L598.31,531.94 L599.01,532.15 L599.71,532.37 L600.42,532.58 L601.13,532.80 L601.85,533.01 L602.57,533.22 L603.29,533.43 L604.01,533.63 L604.74,533.84 L605.47,534.05 L606.21,534.25 L606.95,534.45 L607.69,534.66 L608.44,534.86 L609.19,535.06 L609.94,535.26 L610.70,535.45 L611.46,535.65 L612.23,535.85 L613.00,536.04 L613.77,536.23 L614.55,536.43 L615.33,536.62 L616.11,536.81 L616.90,537.00 L617.69,537.18 L618.49,537.37 L619.29,537.56 L620.09,537.74 L620.90,537.93 L621.71,538.11 L622.53,538.29 L623.35,538.47 L624.17,538.65 L625.00,538.83 L625.83,539.01 L626.67,539.18 L627.51,539.36 L628.35,539.53 L629.20,539.71 L630.05,539.88 L630.91,540.05 L631.77,540.22 L632.64,540.39 L633.51,540.56 L634.38,540.73 L635.26,540.89 L636.14,541.06 L637.03,541.23 L637.92,541.39 L638.81,541.55 L639.71,541.72 L640.62,541.88 L641.53,542.04 L642.44,542.20 L643.36,542.36 L644.28,542.51 L645.21,542.67 L646.14,542.83 L647.07,542.98 L648.01,543.14 L648.96,543.29 L649.91,543.44 L650.86,543.59 L651.82,543.74 L652.78,543.89 L653.75,544.04 L654.73,544.19 L655.70,544.34 L656.69,544.49 L657.67,544.63 L658.67,544.78 L659.66,544.92 L660.67,545.06 L661.67,545.21 L662.68,545.35 L663.70,545.49 L664.72,545.63 L665.75,545.77 L666.78,545.91 L667.82,546.04 L668.86,546.18 L669.91,546.32 L670.96,546.45 L672.02,546.59 L673.08,546.72 L674.15,546.85 L675.22,546.99 L676.30,547.12 L677.39,547.25 L678.48,547.38 L679.57,547.51 L680.67,547.64 L681.78,547.77 L682.89,547.89 L684.00,548.02 L685.12,548.15 L686.25,548.27 L687.38,548.39 L688.52,548.52 L689.67,548.64 L690.82,548.76 L691.97,548.89 L693.13,549.01 L694.30,549.13 L695.47,549.25 L696.65,549.37 L697.83,549.48 L699.02,549.60 L700.22,549.72 L701.42,549.83 L702.63,549.95 L703.84,550.06 L705.06,550.18 L706.28,550.29 L707.51,550.41 L708.75,550.52 L709.99,550.63 L711.24,550.74 L712.50,550.85 L713.76,550.96 L715.03,551.07 L716.30,551.18 L717.58,551.29 L718.87,551.39 L720.16,551.50 L721.46,551.61 L722.77,551.71 L724.08,551.82 L725.40,551.92 L726.72,552.03 L728.05,552.13 L729.39,552.23 L730.74,552.33 L732.09,552.44 L733.45,552.54 L734.81,552.64 L736.18,552.74 L737.56,552.84 L738.94,552.93 L740.34,553.03 L741.73,553.13 L743.14,553.23 L744.55,553.32 L745.97,553.42 L747.40,553.51 L748.83,553.61 L750.27,553.70 L751.72,553.80 L753.17,553.89 L754.63,553.98 L756.10,554.07 L757.58,554.17 L759.06,554.26 L760.55,554.35 L762.05,554.44 L763.55,554.53 L765.07,554.62 L766.59,554.70 L768.11,554.79 L769.65,554.88 L771.19,554.97 L772.74,555.05 L774.30,555.14 L775.86,555.23 L777.44,555.31 L779.02,555.39 L780.60,555.48 L782.20,555.56" fill="none" stroke="#000" stroke-width="1.65" stroke-linejoin="round"/>
<path d="M512.77,324.40 L512.97,325.39 L513.17,326.38 L513.37,327.36 L513.58,328.34 L513.78,329.31 L513.98,330.28 L514.19,331.25 L514.39,332.21 L514.60,333.17 L514.80,334.13 L515.01,335.08 L515.22,336.02 L515.43,336.97 L515.64,337.91 L515.85,338.85 L516.06,339.78 L516.27,340.71 L516.48,341.63 L516.70,342.55 L516.91,343.47 L517.12,344.39 L517.34,345.30 L517.55,346.20 L517.77,347.11 L517.99,348.01 L518.21,348.90 L518.43,349.79 L518.65,350.68 L518.87,351.57 L519.09,352.45 L519.31,353.33 L519.53,354.20 L519.76,355.07 L519.98,355.94 L520.21,356.81 L520.43,357.67 L520.66,358.53 L520.89,359.38 L521.11,360.23 L521.34,361.08 L521.57,361.92 L521.80,362.76 L522.04,363.60 L522.27,364.43 L522.50,365.26 L522.74,366.09 L522.97,366.92 L523.21,367.74 L523.44,368.55 L523.68,369.37 L523.92,370.18 L524.16,370.99 L524.40,371.79 L524.64,372.59 L524.88,373.39 L525.12,374.18 L525.37,374.98 L525.61,375.77 L525.85,376.55 L526.10,377.33 L526.35,378.11 L526.59,378.89 L526.84,379.66 L527.09,380.43 L527.34,381.20 L527.59,381.96 L527.84,382.72 L528.10,383.48 L528.35,384.23 L528.61,384.99 L528.86,385.73 L529.12,386.48 L529.37,387.22 L529.63,387.96 L529.89,388.70 L530.15,389.43 L530.41,390.16 L530.67,390.89 L530.94,391.62 L531.20,392.34 L531.46,393.06 L531.73,393.77 L532.00,394.49 L532.26,395.20 L532.53,395.91 L532.80,396.61 L533.07,397.31 L533.34,398.01 L533.61,398.71 L533.89,399.40 L534.16,400.10 L534.44,400.78 L534.71,401.47 L534.99,402.15 L535.27,402.83 L535.55,403.51 L535.82,404.18 L536.11,404.86 L536.39,405.53 L536.67,406.19 L536.95,406.86 L537.24,407.52 L537.52,408.18 L537.81,408.83 L538.10,409.49 L538.39,410.14 L538.68,410.79 L538.97,411.43 L539.26,412.07 L539.55,412.71 L539.84,413.35 L540.14,413.99 L540.44,414.62 L540.73,415.25 L541.03,415.88 L541.33,416.50 L541.63,417.13 L541.93,417.75 L542.23,418.37 L542.53,418.98 L542.84,419.59 L543.14,420.20 L543.45,420.81 L543.76,421.42 L544.07,422.02 L544.38,422.62 L544.69,423.22 L545.00,423.82 L545.31,424.41 L545.62,425.00 L545.94,425.59 L546.26,426.18 L546.57,426.76 L546.89,427.34 L547.21,427.92 L547.53,428.50 L547.85,429.08 L548.17,429.65 L548.50,430.22 L548.82,430.79 L549.15,431.35 L549.48,431.92 L549.81,432.48 L550.13,433.04 L550.47,433.59 L550.80,434.15 L551.13,434.70 L551.46,435.25 L551.80,435.80 L552.14,436.34 L552.47,436.89 L552.81,437.43 L553.15,437.97 L553.49,438.51 L553.84,439.04 L554.18,439.57 L554.53,440.11 L554.87,440.63 L555.22,441.16 L555.57,441.68 L555.92,442.21 L556.27,442.73 L556.62,443.25 L556.97,443.76 L557.33,444.28 L557.68,444.79 L558.04,445.30 L558.40,445.81 L558.76,446.31 L559.12,446.82 L559.48,447.32 L559.85,447.82 L560.21,448.31 L560.58,448.81 L560.94,449.30 L561.31,449.80 L561.68,450.29 L562.05,450.77 L562.43,451.26 L562.80,451.74 L563.17,452.23 L563.55,452.71 L563.93,453.19 L564.31,453.66 L564.69,454.14 L565.07,454.61 L565.45,455.08 L565.84,455.55 L566.22,456.02 L566.61,456.48 L567.00,456.94 L567.39,457.40 L567.78,457.86 L568.17,458.32 L568.56,458.78 L568.96,459.23 L569.36,459.68 L569.75,460.13 L570.15,460.58 L570.55,461.03 L570.96,461.48 L571.36,461.92 L571.77,462.36 L572.17,462.80 L572.58,463.24 L572.99,463.67 L573.40,464.11 L573.81,464.54 L574.23,464.97 L574.64,465.40 L575.06,465.83 L575.47,466.25 L575.89,466.68 L576.31,467.10 L576.74,467.52 L577.16,467.94 L577.59,468.36 L578.01,468.77 L578.44,469.19 L578.87,469.60 L579.30,470.01 L579.73,470.42 L580.17,470.83 L580.60,471.23 L581.04,471.64 L581.48,472.04 L581.92,472.44 L582.36,472.84 L582.81,473.24 L583.25,473.64 L583.70,474.03 L584.15,474.42 L584.60,474.81 L585.05,475.20 L585.50,475.59 L585.95,475.98 L586.41,476.36 L586.87,476.75 L587.33,477.13 L587.79,477.51 L588.25,477.89 L588.72,478.27 L589.18,478.64 L589.65,479.02 L590.12,479.39 L590.59,479.76 L591.06,480.13 L591.53,480.50 L592.01,480.87 L592.49,481.24 L592.97,481.60 L593.45,481.96 L593.93,482.32 L594.41,482.68 L594.90,483.04 L595.39,483.40 L595.87,483.75 L596.36,484.11 L596.86,484.46 L597.35,484.81 L597.85,485.16 L598.35,485.51 L598.84,485.86 L599.35,486.20 L599.85,486.55 L600.35,486.89 L600.86,487.23 L601.37,487.57 L601.88,487.91 L602.39,488.25 L602.90,488.59 L603.42,488.92 L603.94,489.25 L604.45,489.59 L604.98,489.92 L605.50,490.25 L606.02,490.57 L606.55,490.90 L607.08,491.23 L607.61,491.55 L608.14,491.87 L608.67,492.20 L609.21,492.52 L609.74,492.83 L610.28,493.15 L610.83,493.47 L611.37,493.78 L611.91,494.10 L612.46,494.41 L613.01,494.72 L613.56,495.03 L614.11,495.34 L614.67,495.65 L615.22,495.96 L615.78,496.26 L616.34,496.56 L616.90,496.87 L617.47,497.17 L618.03,497.47 L618.60,497.77 L619.17,498.07 L619.75,498.36 L620.32,498.66 L620.90,498.95 L621.47,499.25 L622.05,499.54 L622.64,499.83 L623.22,500.12 L623.81,500.41 L624.40,500.70 L624.99,500.98 L625.58,501.27 L626.17,501.55 L626.77,501.83 L627.37,502.12 L627.97,502.40 L628.57,502.68 L629.18,502.95 L629.79,503.23 L630.40,503.51 L631.01,503.78 L631.62,504.06 L632.24,504.33 L632.85,504.60 L633.47,504.87 L634.10,505.14 L634.72,505.41 L635.35,505.68 L635.98,505.94 L636.61,506.21 L637.24,506.47 L637.88,506.74 L638.51,507.00 L639.15,507.26 L639.80,507.52 L640.44,507.78 L641.09,508.03 L641.74,508.29 L642.39,508.55 L643.04,508.80 L643.70,509.06 L644.35,509.31 L645.01,509.56 L645.68,509.81 L646.34,510.06 L647.01,510.31 L647.68,510.56 L648.35,510.80 L649.03,511.05 L649.70,511.29 L650.38,511.54 L651.06,511.78 L651.75,512.02 L652.43,512.26 L653.12,512.50 L653.81,512.74 L654.51,512.98 L655.20,513.22 L655.90,513.45 L656.60,513.69 L657.30,513.92 L658.01,514.15 L658.72,514.39 L659.43,514.62 L660.14,514.85 L660.86,515.08 L661.57,515.31 L662.30,515.53 L663.02,515.76 L663.74,515.99 L664.47,516.21 L665.20,516.44 L665.94,516.66 L666.67,516.88 L667.41,517.10 L668.15,517.32 L668.89,517.54 L669.64,517.76 L670.39,517.98 L671.14,518.20 L671.90,518.41 L672.65,518.63 L673.41,518.84 L674.17,519.05 L674.94,519.27 L675.71,519.48 L676.48,519.69 L677.25,519.90 L678.02,520.11 L678.80,520.32 L679.58,520.52 L680.37,520.73 L681.15,520.94 L681.94,521.14 L682.73,521.35 L683.53,521.55 L684.33,521.75 L685.13,521.95 L685.93,522.15 L686.73,522.35 L687.54,522.55 L688.35,522.75 L689.17,522.95 L689.99,523.15 L690.81,523.34 L691.63,523.54 L692.45,523.73 L693.28,523.93 L694.11,524.12 L694.95,524.31 L695.79,524.50 L696.63,524.69 L697.47,524.88 L698.32,525.07 L699.16,525.26 L700.02,525.45 L700.87,525.63 L701.73,525.82 L702.59,526.00 L703.46,526.19 L704.32,526.37 L705.19,526.56 L706.07,526.74 L706.94,526.92 L707.82,527.10 L708.70,527.28 L709.59,527.46 L710.48,527.64 L711.37,527.82 L712.26,527.99 L713.16,528.17 L714.06,528.35 L714.97,528.52 L715.87,528.70 L716.78,528.87 L717.70,529.04 L718.62,529.21 L719.54,529.39 L720.46,529.56 L721.39,529.73 L722.32,529.90 L723.25,530.07 L724.18,530.23 L725.12,530.40 L726.07,530.57 L727.01,530.73 L727.96,530.90 L728.92,531.06 L729.87,531.23 L730.83,531.39 L731.79,531.55 L732.76,531.72 L733.73,531.88 L734.70,532.04 L735.68,532.20 L736.66,532.36 L737.64,532.52 L738.63,532.68 L739.62,532.83 L740.61,532.99 L741.61,533.15 L742.61,533.30 L743.62,533.46 L744.62,533.61 L745.63,533.77 L746.65,533.92 L747.67,534.07 L748.69,534.22 L749.71,534.37 L750.74,534.53 L751.78,534.68 L752.81,534.83 L753.85,534.97 L754.89,535.12 L755.94,535.27 L756.99,535.42 L758.05,535.56 L759.10,535.71 L760.17,535.85 L761.23,536.00 L762.30,536.14 L763.37,536.29 L764.45,536.43 L765.53,536.57 L766.62,536.71 L767.70,536.86 L768.80,537.00 L769.89,537.14 L770.99,537.28 L772.09,537.41 L773.20,537.55 L774.31,537.69 L775.43,537.83 L776.55,537.97 L777.67,538.10 L778.80,538.24 L779.93,538.37 L781.06,538.51 L782.20,538.64" fill="none" stroke="#000" stroke-width="1.65" stroke-linejoin="round"/>
<path d="M549.21,324.40 L549.44,325.12 L549.68,325.83 L549.92,326.55 L550.15,327.26 L550.39,327.97 L550.63,328.68 L550.86,329.39 L551.10,330.09 L551.34,330.79 L551.58,331.49 L551.82,332.19 L552.07,332.89 L552.31,333.58 L552.55,334.27 L552.79,334.96 L553.04,335.65 L553.28,336.34 L553.53,337.02 L553.77,337.70 L554.02,338.38 L554.26,339.06 L554.51,339.74 L554.76,340.41 L555.01,341.08 L555.26,341.75 L555.51,342.42 L555.76,343.09 L556.01,343.75 L556.26,344.42 L556.51,345.08 L556.77,345.74 L557.02,346.39 L557.27,347.05 L557.53,347.70 L557.78,348.36 L558.04,349.00 L558.30,349.65 L558.56,350.30 L558.81,350.94 L559.07,351.59 L559.33,352.23 L559.59,352.86 L559.85,353.50 L560.11,354.14 L560.38,354.77 L560.64,355.40 L560.90,356.03 L561.17,356.66 L561.43,357.28 L561.70,357.91 L561.96,358.53 L562.23,359.15 L562.50,359.77 L562.76,360.39 L563.03,361.00 L563.30,361.62 L563.57,362.23 L563.84,362.84 L564.11,363.44 L564.39,364.05 L564.66,364.66 L564.93,365.26 L565.21,365.86 L565.48,366.46 L565.76,367.06 L566.03,367.65 L566.31,368.25 L566.59,368.84 L566.87,369.43 L567.14,370.02 L567.42,370.61 L567.71,371.19 L567.99,371.78 L568.27,372.36 L568.55,372.94 L568.83,373.52 L569.12,374.10 L569.40,374.67 L569.69,375.25 L569.97,375.82 L570.26,376.39 L570.55,376.96 L570.84,377.53 L571.12,378.10 L571.41,378.66 L571.71,379.22 L572.00,379.78 L572.29,380.34 L572.58,380.90 L572.87,381.46 L573.17,382.01 L573.46,382.57 L573.76,383.12 L574.05,383.67 L574.35,384.22 L574.65,384.76 L574.95,385.31 L575.25,385.85 L575.55,386.39 L575.85,386.94 L576.15,387.47 L576.45,388.01 L576.75,388.55 L577.06,389.08 L577.36,389.62 L577.67,390.15 L577.97,390.68 L578.28,391.20 L578.59,391.73 L578.90,392.26 L579.21,392.78 L579.52,393.30 L579.83,393.82 L580.14,394.34 L580.45,394.86 L580.76,395.38 L581.08,395.89 L581.39,396.41 L581.71,396.92 L582.02,397.43 L582.34,397.94 L582.66,398.44 L582.98,398.95 L583.30,399.46 L583.62,399.96 L583.94,400.46 L584.26,400.96 L584.58,401.46 L584.91,401.96 L585.23,402.45 L585.55,402.95 L585.88,403.44 L586.21,403.93 L586.53,404.42 L586.86,404.91 L587.19,405.40 L587.52,405.88 L587.85,406.37 L588.18,406.85 L588.52,407.33 L588.85,407.82 L589.18,408.29 L589.52,408.77 L589.85,409.25 L590.19,409.72 L590.53,410.20 L590.87,410.67 L591.21,411.14 L591.55,411.61 L591.89,412.08 L592.23,412.55 L592.57,413.01 L592.92,413.48 L593.26,413.94 L593.60,414.40 L593.95,414.86 L594.30,415.32 L594.65,415.78 L594.99,416.23 L595.34,416.69 L595.69,417.14 L596.04,417.59 L596.40,418.04 L596.75,418.49 L597.10,418.94 L597.46,419.39 L597.81,419.84 L598.17,420.28 L598.53,420.72 L598.89,421.17 L599.25,421.61 L599.61,422.05 L599.97,422.48 L600.33,422.92 L600.69,423.36 L601.06,423.79 L601.42,424.23 L601.79,424.66 L602.15,425.09 L602.52,425.52 L602.89,425.95 L603.26,426.37 L603.63,426.80 L604.00,427.22 L604.37,427.65 L604.74,428.07 L605.12,428.49 L605.49,428.91 L605.87,429.33 L606.25,429.75 L606.62,430.16 L607.00,430.58 L607.38,430.99 L607.76,431.40 L608.14,431.81 L608.53,432.23 L608.91,432.63 L609.29,433.04 L609.68,433.45 L610.07,433.85 L610.45,434.26 L610.84,434.66 L611.23,435.06 L611.62,435.46 L612.01,435.86 L612.40,436.26 L612.80,436.66 L613.19,437.06 L613.59,437.45 L613.98,437.85 L614.38,438.24 L614.78,438.63 L615.18,439.02 L615.58,439.41 L615.98,439.80 L616.38,440.19 L616.78,440.57 L617.19,440.96 L617.59,441.34 L618.00,441.72 L618.41,442.11 L618.82,442.49 L619.22,442.87 L619.63,443.24 L620.05,443.62 L620.46,444.00 L620.87,444.37 L621.29,444.75 L621.70,445.12 L622.12,445.49 L622.54,445.86 L622.95,446.23 L623.37,446.60 L623.79,446.97 L624.22,447.34 L624.64,447.70 L625.06,448.07 L625.49,448.43 L625.91,448.79 L626.34,449.15 L626.77,449.51 L627.20,449.87 L627.63,450.23 L628.06,450.59 L628.49,450.94 L628.93,451.30 L629.36,451.65 L629.80,452.01 L630.23,452.36 L630.67,452.71 L631.11,453.06 L631.55,453.41 L631.99,453.76 L632.43,454.11 L632.88,454.45 L633.32,454.80 L633.77,455.14 L634.21,455.48 L634.66,455.83 L635.11,456.17 L635.56,456.51 L636.01,456.85 L636.46,457.18 L636.92,457.52 L637.37,457.86 L637.83,458.19 L638.28,458.53 L638.74,458.86 L639.20,459.19 L639.66,459.52 L640.12,459.86 L640.59,460.18 L641.05,460.51 L641.51,460.84 L641.98,461.17 L642.45,461.49 L642.92,461.82 L643.39,462.14 L643.86,462.46 L644.33,462.79 L644.80,463.11 L645.28,463.43 L645.75,463.75 L646.23,464.07 L646.71,464.38 L647.19,464.70 L647.67,465.02 L648.15,465.33 L648.63,465.64 L649.12,465.96 L649.60,466.27 L650.09,466.58 L650.57,466.89 L651.06,467.20 L651.55,467.51 L652.04,467.81 L652.54,468.12 L653.03,468.43 L653.53,468.73 L654.02,469.04 L654.52,469.34 L655.02,469.64 L655.52,469.94 L656.02,470.24 L656.52,470.54 L657.03,470.84 L657.53,471.14 L658.04,471.44 L658.55,471.73 L659.05,472.03 L659.56,472.32 L660.08,472.62 L660.59,472.91 L661.10,473.20 L661.62,473.49 L662.13,473.78 L662.65,474.07 L663.17,474.36 L663.69,474.65 L664.21,474.93 L664.74,475.22 L665.26,475.51 L665.79,475.79 L666.31,476.07 L666.84,476.36 L667.37,476.64 L667.90,476.92 L668.43,477.20 L668.97,477.48 L669.50,477.76 L670.04,478.04 L670.58,478.31 L671.12,478.59 L671.66,478.87 L672.20,479.14 L672.74,479.41 L673.29,479.69 L673.83,479.96 L674.38,480.23 L674.93,480.50 L675.48,480.77 L676.03,481.04 L676.58,481.31 L677.14,481.58 L677.69,481.84 L678.25,482.11 L678.81,482.38 L679.37,482.64 L679.93,482.90 L680.49,483.17 L681.05,483.43 L681.62,483.69 L682.19,483.95 L682.75,484.21 L683.32,484.47 L683.89,484.73 L684.47,484.99 L685.04,485.24 L685.62,485.50 L686.19,485.76 L686.77,486.01 L687.35,486.26 L687.93,486.52 L688.51,486.77 L689.10,487.02 L689.68,487.27 L690.27,487.52 L690.86,487.77 L691.45,488.02 L692.04,488.27 L692.63,488.52 L693.23,488.77 L693.82,489.01 L694.42,489.26 L695.02,489.50 L695.62,489.75 L696.22,489.99 L696.82,490.23 L697.43,490.47 L698.04,490.71 L698.64,490.96 L699.25,491.20 L699.86,491.43 L700.48,491.67 L701.09,491.91 L701.71,492.15 L702.32,492.38 L702.94,492.62 L703.56,492.85 L704.18,493.09 L704.81,493.32 L705.43,493.56 L706.06,493.79 L706.69,494.02 L707.32,494.25 L707.95,494.48 L708.58,494.71 L709.21,494.94 L709.85,495.17 L710.49,495.39 L711.13,495.62 L711.77,495.85 L712.41,496.07 L713.05,496.30 L713.70,496.52 L714.35,496.75 L714.99,496.97 L715.64,497.19 L716.30,497.41 L716.95,497.63 L717.61,497.86 L718.26,498.08 L718.92,498.29 L719.58,498.51 L720.24,498.73 L720.91,498.95 L721.57,499.16 L722.24,499.38 L722.91,499.60 L723.58,499.81 L724.25,500.03 L724.92,500.24 L725.60,500.45 L726.28,500.66 L726.95,500.88 L727.63,501.09 L728.32,501.30 L729.00,501.51 L729.69,501.72 L730.37,501.92 L731.06,502.13 L731.75,502.34 L732.45,502.55 L733.14,502.75 L733.84,502.96 L734.53,503.16 L735.23,503.37 L735.93,503.57 L736.64,503.78 L737.34,503.98 L738.05,504.18 L738.76,504.38 L739.47,504.58 L740.18,504.78 L740.89,504.98 L741.61,505.18 L742.32,505.38 L743.04,505.58 L743.76,505.78 L744.49,505.97 L745.21,506.17 L745.94,506.36 L746.66,506.56 L747.39,506.75 L748.13,506.95 L748.86,507.14 L749.59,507.33 L750.33,507.53 L751.07,507.72 L751.81,507.91 L752.55,508.10 L753.30,508.29 L754.04,508.48 L754.79,508.67 L755.54,508.86 L756.30,509.05 L757.05,509.23 L757.80,509.42 L758.56,509.61 L759.32,509.79 L760.08,509.98 L760.85,510.16 L761.61,510.35 L762.38,510.53 L763.15,510.71 L763.92,510.90 L764.69,511.08 L765.47,511.26 L766.25,511.44 L767.02,511.62 L767.81,511.80 L768.59,511.98 L769.37,512.16 L770.16,512.34 L770.95,512.51 L771.74,512.69 L772.53,512.87 L773.33,513.04 L774.12,513.22 L774.92,513.40 L775.72,513.57 L776.52,513.74 L777.33,513.92 L778.14,514.09 L778.94,514.26 L779.76,514.44 L780.57,514.61 L781.38,514.78 L782.20,514.95" fill="none" stroke="#000" stroke-width="1.65" stroke-linejoin="round"/>
</g>
<g filter="url(#gs)">
<text x="57.80" y="278.40" text-anchor="middle">0</text>
<text x="139.50" y="278.40" text-anchor="middle">200</text>
<text x="221.20" y="278.40" text-anchor="middle">400</text>
<text x="302.90" y="278.40" text-anchor="middle">600</text>
<text x="384.60" y="278.40" text-anchor="middle">800</text>
<text x="54.40" y="266.60" text-anchor="end">1</text>
<text x="54.40" y="217.74" text-anchor="end">1.2</text>
<text x="54.40" y="168.88" text-anchor="end">1.4</text>
<text x="54.40" y="120.02" text-anchor="end">1.6</text>
<text x="54.40" y="71.16" text-anchor="end">1.8</text>
<text x="54.40" y="22.30" text-anchor="end">2</text>
<text x="220.40" y="298.70" text-anchor="middle">Capillary Density, mm<tspan dx="-0.8" dy="-7.6" style="font-size:10.5px">−2</tspan></text>
<text transform="translate(18.20,139.05) rotate(-90)" text-anchor="middle" style="font-size:15px"><tspan style="font-style:italic">D</tspan><tspan style="font-size:10.5px;font-style:italic" dy="7.4">z</tspan><tspan dy="-7.4"> / </tspan><tspan style="font-style:italic">D</tspan><tspan style="font-size:10.5px;font-style:italic" dy="7.4">x</tspan></text>
<text x="344.20" y="44.00" style="font-weight:bold;font-size:21px">A</text>
<text x="94.00" y="228.50">0.25</text>
<text x="128.40" y="204.80">0.50</text>
<text x="161.90" y="184.00">0.75</text>
<text x="196.30" y="163.60">1.00 ml min<tspan dy="-8.3" style="font-size:10.5px">−1</tspan><tspan dy="8.3"> ml</tspan><tspan dy="-8.3" style="font-size:10.5px">−1</tspan></text>
<text x="454.00" y="278.50" text-anchor="middle">0</text>
<text x="535.50" y="278.50" text-anchor="middle">200</text>
<text x="617.00" y="278.50" text-anchor="middle">400</text>
<text x="698.50" y="278.50" text-anchor="middle">600</text>
<text x="780.00" y="278.50" text-anchor="middle">800</text>
<text x="450.60" y="266.70" text-anchor="end">1</text>
<text x="450.60" y="205.60" text-anchor="end">1.5</text>
<text x="450.60" y="144.50" text-anchor="end">2</text>
<text x="450.60" y="83.40" text-anchor="end">2.5</text>
<text x="450.60" y="22.30" text-anchor="end">3</text>
<text x="616.20" y="298.80" text-anchor="middle">Capillary Density, mm<tspan dx="-0.8" dy="-7.6" style="font-size:10.5px">−2</tspan></text>
<text transform="translate(414.40,139.10) rotate(-90)" text-anchor="middle" style="font-size:15px"><tspan style="font-style:italic">D</tspan><tspan style="font-size:10.5px;font-style:italic" dy="7.4">z</tspan><tspan dy="-7.4"> / </tspan><tspan style="font-style:italic">D</tspan><tspan style="font-size:10.5px;font-style:italic" dy="7.4">x</tspan></text>
<text x="739.60" y="44.00" style="font-weight:bold;font-size:21px">B</text>
<text x="494.20" y="219.80">0.25</text>
<text x="534.90" y="194.20">0.50</text>
<text x="573.60" y="170.50">0.75</text>
<text x="613.40" y="147.25">1.00 ml min<tspan dy="-8.3" style="font-size:10.5px">−1</tspan><tspan dy="8.3"> ml</tspan><tspan dy="-8.3" style="font-size:10.5px">−1</tspan></text>
<text x="57.80" y="586.50" text-anchor="middle">0</text>
<text x="139.48" y="586.50" text-anchor="middle">200</text>
<text x="221.15" y="586.50" text-anchor="middle">400</text>
<text x="302.82" y="586.50" text-anchor="middle">600</text>
<text x="384.50" y="586.50" text-anchor="middle">800</text>
<text x="54.40" y="574.70" text-anchor="end">1</text>
<text x="54.40" y="525.82" text-anchor="end">1.2</text>
<text x="54.40" y="476.94" text-anchor="end">1.4</text>
<text x="54.40" y="428.06" text-anchor="end">1.6</text>
<text x="54.40" y="379.18" text-anchor="end">1.8</text>
<text x="54.40" y="330.30" text-anchor="end">2</text>
<text x="220.35" y="606.80" text-anchor="middle">Capillary Density, mm<tspan dx="-0.8" dy="-7.6" style="font-size:10.5px">−2</tspan></text>
<text transform="translate(18.20,447.10) rotate(-90)" text-anchor="middle" style="font-size:15px"><tspan style="font-style:italic">D</tspan><tspan style="font-size:10.5px;font-style:italic" dy="7.4">z</tspan><tspan dy="-7.4"> / </tspan><tspan style="font-style:italic">D</tspan><tspan style="font-size:10.5px;font-style:italic" dy="7.4">x</tspan></text>
<text x="344.20" y="351.00" style="font-weight:bold;font-size:21px">C</text>
<text x="100.40" y="534.20">0.25</text>
<text x="141.90" y="508.70">0.50</text>
<text x="185.60" y="486.70">0.75</text>
<text x="227.20" y="465.25">1.00 ml min<tspan dy="-8.3" style="font-size:10.5px">−1</tspan><tspan dy="8.3"> ml</tspan><tspan dy="-8.3" style="font-size:10.5px">−1</tspan></text>
<text x="456.00" y="586.80" text-anchor="middle">0</text>
<text x="537.65" y="586.80" text-anchor="middle">200</text>
<text x="619.30" y="586.80" text-anchor="middle">400</text>
<text x="700.95" y="586.80" text-anchor="middle">600</text>
<text x="782.60" y="586.80" text-anchor="middle">800</text>
<text x="452.60" y="575.00" text-anchor="end">1</text>
<text x="452.60" y="513.83" text-anchor="end">1.5</text>
<text x="452.60" y="452.65" text-anchor="end">2</text>
<text x="452.60" y="391.47" text-anchor="end">2.5</text>
<text x="452.60" y="330.30" text-anchor="end">3</text>
<text x="618.50" y="607.10" text-anchor="middle">Capillary Density, mm<tspan dx="-0.8" dy="-7.6" style="font-size:10.5px">−2</tspan></text>
<text transform="translate(416.40,447.25) rotate(-90)" text-anchor="middle" style="font-size:15px"><tspan style="font-style:italic">D</tspan><tspan style="font-size:10.5px;font-style:italic" dy="7.4">z</tspan><tspan dy="-7.4"> / </tspan><tspan style="font-style:italic">D</tspan><tspan style="font-size:10.5px;font-style:italic" dy="7.4">x</tspan></text>
<text x="739.60" y="351.00" style="font-weight:bold;font-size:21px">D</text>
<text x="498.40" y="524.70">0.25</text>
<text x="542.20" y="496.10">0.50</text>
<text x="586.40" y="469.20">0.75</text>
<text x="629.20" y="443.25">1.00 ml min<tspan dy="-8.3" style="font-size:10.5px">−1</tspan><tspan dy="8.3"> ml</tspan><tspan dy="-8.3" style="font-size:10.5px">−1</tspan></text>
</g>
</svg>
</body></html>
